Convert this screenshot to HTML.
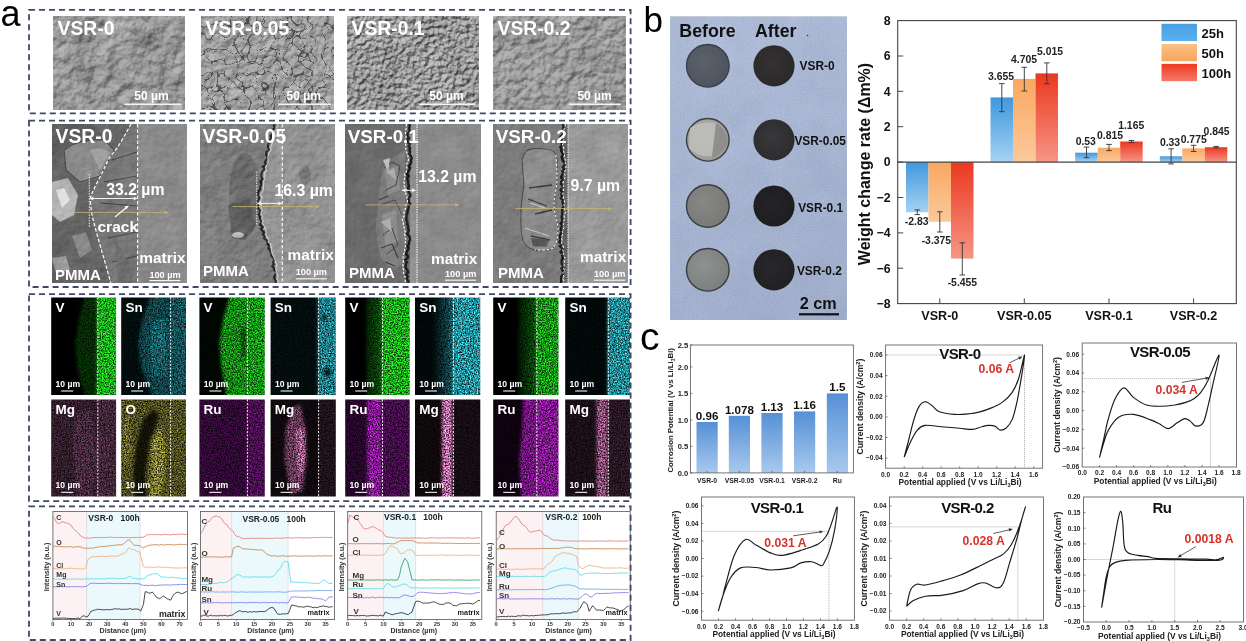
<!DOCTYPE html><html><head><meta charset="utf-8"><style>html,body{margin:0;padding:0;background:#fff}body{width:1246px;height:641px;position:relative;overflow:hidden}</style></head><body><svg width="1246" height="641" viewBox="0 0 1246 641" style="position:absolute;left:0;top:0" font-family='"Liberation Sans", Arial, sans-serif'><defs><filter id="semT0" x="0" y="0" width="1" height="1" color-interpolation-filters="sRGB"><feTurbulence type="fractalNoise" baseFrequency="0.08" numOctaves="5" seed="3" result="n"/><feDiffuseLighting in="n" surfaceScale="4.5" diffuseConstant="1" lighting-color="#fff" result="l"><feDistantLight azimuth="235" elevation="50"/></feDiffuseLighting><feComposite in="SourceGraphic" in2="l" operator="arithmetic" k1="0" k2="1" k3="0.35" k4="-0.268" result="a"/><feTurbulence type="fractalNoise" baseFrequency="0.03" numOctaves="3" seed="14" result="t2"/><feColorMatrix in="t2" type="matrix" values="1 0 0 0 0 1 0 0 0 0 1 0 0 0 0 0 0 0 0 1" result="g2"/><feComposite in="a" in2="g2" operator="arithmetic" k1="0" k2="1" k3="0.3" k4="-0.150" result="b"/></filter><filter id="semT1" x="0" y="0" width="1" height="1" color-interpolation-filters="sRGB"><feTurbulence type="fractalNoise" baseFrequency="0.14" numOctaves="4" seed="5" result="n"/><feDiffuseLighting in="n" surfaceScale="3" diffuseConstant="1" lighting-color="#fff" result="l"><feDistantLight azimuth="235" elevation="50"/></feDiffuseLighting><feComposite in="SourceGraphic" in2="l" operator="arithmetic" k1="0" k2="1" k3="0.32" k4="-0.245" result="a"/><feTurbulence type="fractalNoise" baseFrequency="0.05" numOctaves="3" seed="16" result="t2"/><feColorMatrix in="t2" type="matrix" values="1 0 0 0 0 1 0 0 0 0 1 0 0 0 0 0 0 0 0 1" result="g2"/><feComposite in="a" in2="g2" operator="arithmetic" k1="0" k2="1" k3="0.15" k4="-0.075" result="b"/><feTurbulence type="turbulence" baseFrequency="0.08" numOctaves="1" seed="10" result="t3"/><feColorMatrix in="t3" type="matrix" values="1 0 0 0 0 1 0 0 0 0 1 0 0 0 0 0 0 0 0 1" result="g3"/><feComponentTransfer in="g3" result="g4"><feFuncR type="table" tableValues="0.55 0.72 0.93 1 1 1 1 1 1 1 1 1 1 1 1 1 1 1 1 1 1 1 1 1 1 1 1 1 1 1 1 1 1 1 1 1 1 1 1 1 1 1 1 1 1 1 1 1 1 1 1 1 1 1 1 1 1 1 1 1"/><feFuncG type="table" tableValues="0.55 0.72 0.93 1 1 1 1 1 1 1 1 1 1 1 1 1 1 1 1 1 1 1 1 1 1 1 1 1 1 1 1 1 1 1 1 1 1 1 1 1 1 1 1 1 1 1 1 1 1 1 1 1 1 1 1 1 1 1 1 1"/><feFuncB type="table" tableValues="0.55 0.72 0.93 1 1 1 1 1 1 1 1 1 1 1 1 1 1 1 1 1 1 1 1 1 1 1 1 1 1 1 1 1 1 1 1 1 1 1 1 1 1 1 1 1 1 1 1 1 1 1 1 1 1 1 1 1 1 1 1 1"/><feFuncA type="linear" slope="0" intercept="1"/></feComponentTransfer><feComposite in="b" in2="g4" operator="arithmetic" k1="1" k2="0" k3="0" k4="0"/></filter><filter id="semT2" x="0" y="0" width="1" height="1" color-interpolation-filters="sRGB"><feTurbulence type="fractalNoise" baseFrequency="0.22" numOctaves="3" seed="8" result="n"/><feDiffuseLighting in="n" surfaceScale="4" diffuseConstant="1" lighting-color="#fff" result="l"><feDistantLight azimuth="235" elevation="50"/></feDiffuseLighting><feComposite in="SourceGraphic" in2="l" operator="arithmetic" k1="0" k2="1" k3="0.48" k4="-0.368" result="a"/><feTurbulence type="fractalNoise" baseFrequency="0.04" numOctaves="3" seed="19" result="t2"/><feColorMatrix in="t2" type="matrix" values="1 0 0 0 0 1 0 0 0 0 1 0 0 0 0 0 0 0 0 1" result="g2"/><feComposite in="a" in2="g2" operator="arithmetic" k1="0" k2="1" k3="0.15" k4="-0.075" result="b"/></filter><filter id="semT3" x="0" y="0" width="1" height="1" color-interpolation-filters="sRGB"><feTurbulence type="fractalNoise" baseFrequency="0.12" numOctaves="5" seed="13" result="n"/><feDiffuseLighting in="n" surfaceScale="4" diffuseConstant="1" lighting-color="#fff" result="l"><feDistantLight azimuth="235" elevation="50"/></feDiffuseLighting><feComposite in="SourceGraphic" in2="l" operator="arithmetic" k1="0" k2="1" k3="0.32" k4="-0.245" result="a"/><feTurbulence type="fractalNoise" baseFrequency="0.04" numOctaves="3" seed="24" result="t2"/><feColorMatrix in="t2" type="matrix" values="1 0 0 0 0 1 0 0 0 0 1 0 0 0 0 0 0 0 0 1" result="g2"/><feComposite in="a" in2="g2" operator="arithmetic" k1="0" k2="1" k3="0.18" k4="-0.090" result="b"/></filter><filter id="semC0" x="0" y="0" width="1" height="1" color-interpolation-filters="sRGB"><feGaussianBlur in="SourceGraphic" stdDeviation="0.5" result="bl"/><feTurbulence type="fractalNoise" baseFrequency="0.18" numOctaves="3" seed="21" result="n"/><feDiffuseLighting in="n" surfaceScale="1.5" diffuseConstant="1" lighting-color="#fff" result="l"><feDistantLight azimuth="235" elevation="50"/></feDiffuseLighting><feComposite in="bl" in2="l" operator="arithmetic" k1="0" k2="1" k3="0.12" k4="-0.092" result="a"/><feTurbulence type="fractalNoise" baseFrequency="0.05" numOctaves="3" seed="32" result="t2"/><feColorMatrix in="t2" type="matrix" values="1 0 0 0 0 1 0 0 0 0 1 0 0 0 0 0 0 0 0 1" result="g2"/><feComposite in="a" in2="g2" operator="arithmetic" k1="0" k2="1" k3="0.1" k4="-0.050" result="b"/></filter><filter id="semC1" x="0" y="0" width="1" height="1" color-interpolation-filters="sRGB"><feGaussianBlur in="SourceGraphic" stdDeviation="0.5" result="bl"/><feTurbulence type="fractalNoise" baseFrequency="0.16" numOctaves="3" seed="22" result="n"/><feDiffuseLighting in="n" surfaceScale="2" diffuseConstant="1" lighting-color="#fff" result="l"><feDistantLight azimuth="235" elevation="50"/></feDiffuseLighting><feComposite in="bl" in2="l" operator="arithmetic" k1="0" k2="1" k3="0.16" k4="-0.123" result="a"/><feTurbulence type="fractalNoise" baseFrequency="0.05" numOctaves="3" seed="33" result="t2"/><feColorMatrix in="t2" type="matrix" values="1 0 0 0 0 1 0 0 0 0 1 0 0 0 0 0 0 0 0 1" result="g2"/><feComposite in="a" in2="g2" operator="arithmetic" k1="0" k2="1" k3="0.12" k4="-0.060" result="b"/></filter><filter id="semC2" x="0" y="0" width="1" height="1" color-interpolation-filters="sRGB"><feGaussianBlur in="SourceGraphic" stdDeviation="0.5" result="bl"/><feTurbulence type="fractalNoise" baseFrequency="0.18" numOctaves="3" seed="23" result="n"/><feDiffuseLighting in="n" surfaceScale="1.2" diffuseConstant="1" lighting-color="#fff" result="l"><feDistantLight azimuth="235" elevation="50"/></feDiffuseLighting><feComposite in="bl" in2="l" operator="arithmetic" k1="0" k2="1" k3="0.1" k4="-0.077" result="a"/><feTurbulence type="fractalNoise" baseFrequency="0.05" numOctaves="3" seed="34" result="t2"/><feColorMatrix in="t2" type="matrix" values="1 0 0 0 0 1 0 0 0 0 1 0 0 0 0 0 0 0 0 1" result="g2"/><feComposite in="a" in2="g2" operator="arithmetic" k1="0" k2="1" k3="0.08" k4="-0.040" result="b"/></filter><filter id="semC3" x="0" y="0" width="1" height="1" color-interpolation-filters="sRGB"><feGaussianBlur in="SourceGraphic" stdDeviation="0.5" result="bl"/><feTurbulence type="fractalNoise" baseFrequency="0.18" numOctaves="3" seed="24" result="n"/><feDiffuseLighting in="n" surfaceScale="1.5" diffuseConstant="1" lighting-color="#fff" result="l"><feDistantLight azimuth="235" elevation="50"/></feDiffuseLighting><feComposite in="bl" in2="l" operator="arithmetic" k1="0" k2="1" k3="0.12" k4="-0.092" result="a"/><feTurbulence type="fractalNoise" baseFrequency="0.05" numOctaves="3" seed="35" result="t2"/><feColorMatrix in="t2" type="matrix" values="1 0 0 0 0 1 0 0 0 0 1 0 0 0 0 0 0 0 0 1" result="g2"/><feComposite in="a" in2="g2" operator="arithmetic" k1="0" k2="1" k3="0.1" k4="-0.050" result="b"/></filter><clipPath id="clip00"><rect x="51.2" y="297.5" width="64.9" height="97.5"/></clipPath><filter id="eds00" x="0" y="0" width="1" height="1" color-interpolation-filters="sRGB"><feGaussianBlur in="SourceGraphic" stdDeviation="1.8" result="bl"/><feTurbulence type="fractalNoise" baseFrequency="0.75" numOctaves="3" seed="31" result="t1"/><feColorMatrix in="t1" type="matrix" values="1 0 0 0 0 1 0 0 0 0 1 0 0 0 0 0 0 0 0 1" result="g1"/><feComponentTransfer in="g1" result="g2"><feFuncR type="linear" slope="1.7" intercept="-0.35"/><feFuncG type="linear" slope="1.7" intercept="-0.35"/><feFuncB type="linear" slope="1.7" intercept="-0.35"/><feFuncA type="linear" slope="0" intercept="1"/></feComponentTransfer><feComposite in="bl" in2="g2" operator="arithmetic" k1="1.9" k2="0" k3="0" k4="0"/></filter><clipPath id="clip10"><rect x="121.2" y="297.5" width="64.8" height="97.5"/></clipPath><filter id="eds10" x="0" y="0" width="1" height="1" color-interpolation-filters="sRGB"><feGaussianBlur in="SourceGraphic" stdDeviation="1.8" result="bl"/><feTurbulence type="fractalNoise" baseFrequency="0.75" numOctaves="3" seed="32" result="t1"/><feColorMatrix in="t1" type="matrix" values="1 0 0 0 0 1 0 0 0 0 1 0 0 0 0 0 0 0 0 1" result="g1"/><feComponentTransfer in="g1" result="g2"><feFuncR type="linear" slope="1.7" intercept="-0.35"/><feFuncG type="linear" slope="1.7" intercept="-0.35"/><feFuncB type="linear" slope="1.7" intercept="-0.35"/><feFuncA type="linear" slope="0" intercept="1"/></feComponentTransfer><feComposite in="bl" in2="g2" operator="arithmetic" k1="1.9" k2="0" k3="0" k4="0"/></filter><clipPath id="clip01"><rect x="51.2" y="399.5" width="64.9" height="96.9"/></clipPath><filter id="eds01" x="0" y="0" width="1" height="1" color-interpolation-filters="sRGB"><feGaussianBlur in="SourceGraphic" stdDeviation="1.8" result="bl"/><feTurbulence type="fractalNoise" baseFrequency="0.75" numOctaves="3" seed="33" result="t1"/><feColorMatrix in="t1" type="matrix" values="1 0 0 0 0 1 0 0 0 0 1 0 0 0 0 0 0 0 0 1" result="g1"/><feComponentTransfer in="g1" result="g2"><feFuncR type="linear" slope="1.7" intercept="-0.35"/><feFuncG type="linear" slope="1.7" intercept="-0.35"/><feFuncB type="linear" slope="1.7" intercept="-0.35"/><feFuncA type="linear" slope="0" intercept="1"/></feComponentTransfer><feComposite in="bl" in2="g2" operator="arithmetic" k1="1.9" k2="0" k3="0" k4="0"/></filter><clipPath id="clip11"><rect x="121.2" y="399.5" width="64.8" height="96.9"/></clipPath><filter id="eds11" x="0" y="0" width="1" height="1" color-interpolation-filters="sRGB"><feGaussianBlur in="SourceGraphic" stdDeviation="1.8" result="bl"/><feTurbulence type="fractalNoise" baseFrequency="0.75" numOctaves="3" seed="34" result="t1"/><feColorMatrix in="t1" type="matrix" values="1 0 0 0 0 1 0 0 0 0 1 0 0 0 0 0 0 0 0 1" result="g1"/><feComponentTransfer in="g1" result="g2"><feFuncR type="linear" slope="1.7" intercept="-0.35"/><feFuncG type="linear" slope="1.7" intercept="-0.35"/><feFuncB type="linear" slope="1.7" intercept="-0.35"/><feFuncA type="linear" slope="0" intercept="1"/></feComponentTransfer><feComposite in="bl" in2="g2" operator="arithmetic" k1="1.9" k2="0" k3="0" k4="0"/></filter><clipPath id="clip20"><rect x="199.4" y="297.5" width="65.4" height="97.5"/></clipPath><filter id="eds20" x="0" y="0" width="1" height="1" color-interpolation-filters="sRGB"><feGaussianBlur in="SourceGraphic" stdDeviation="1.8" result="bl"/><feTurbulence type="fractalNoise" baseFrequency="0.75" numOctaves="3" seed="35" result="t1"/><feColorMatrix in="t1" type="matrix" values="1 0 0 0 0 1 0 0 0 0 1 0 0 0 0 0 0 0 0 1" result="g1"/><feComponentTransfer in="g1" result="g2"><feFuncR type="linear" slope="1.7" intercept="-0.35"/><feFuncG type="linear" slope="1.7" intercept="-0.35"/><feFuncB type="linear" slope="1.7" intercept="-0.35"/><feFuncA type="linear" slope="0" intercept="1"/></feComponentTransfer><feComposite in="bl" in2="g2" operator="arithmetic" k1="1.9" k2="0" k3="0" k4="0"/></filter><clipPath id="clip30"><rect x="270.6" y="297.5" width="65.2" height="97.5"/></clipPath><filter id="eds30" x="0" y="0" width="1" height="1" color-interpolation-filters="sRGB"><feGaussianBlur in="SourceGraphic" stdDeviation="1.8" result="bl"/><feTurbulence type="fractalNoise" baseFrequency="0.75" numOctaves="3" seed="36" result="t1"/><feColorMatrix in="t1" type="matrix" values="1 0 0 0 0 1 0 0 0 0 1 0 0 0 0 0 0 0 0 1" result="g1"/><feComponentTransfer in="g1" result="g2"><feFuncR type="linear" slope="1.7" intercept="-0.35"/><feFuncG type="linear" slope="1.7" intercept="-0.35"/><feFuncB type="linear" slope="1.7" intercept="-0.35"/><feFuncA type="linear" slope="0" intercept="1"/></feComponentTransfer><feComposite in="bl" in2="g2" operator="arithmetic" k1="1.9" k2="0" k3="0" k4="0"/></filter><clipPath id="clip21"><rect x="199.4" y="399.5" width="65.4" height="96.9"/></clipPath><filter id="eds21" x="0" y="0" width="1" height="1" color-interpolation-filters="sRGB"><feGaussianBlur in="SourceGraphic" stdDeviation="1.8" result="bl"/><feTurbulence type="fractalNoise" baseFrequency="0.75" numOctaves="3" seed="37" result="t1"/><feColorMatrix in="t1" type="matrix" values="1 0 0 0 0 1 0 0 0 0 1 0 0 0 0 0 0 0 0 1" result="g1"/><feComponentTransfer in="g1" result="g2"><feFuncR type="linear" slope="1.7" intercept="-0.35"/><feFuncG type="linear" slope="1.7" intercept="-0.35"/><feFuncB type="linear" slope="1.7" intercept="-0.35"/><feFuncA type="linear" slope="0" intercept="1"/></feComponentTransfer><feComposite in="bl" in2="g2" operator="arithmetic" k1="1.9" k2="0" k3="0" k4="0"/></filter><clipPath id="clip31"><rect x="270.6" y="399.5" width="65.2" height="96.9"/></clipPath><filter id="eds31" x="0" y="0" width="1" height="1" color-interpolation-filters="sRGB"><feGaussianBlur in="SourceGraphic" stdDeviation="1.8" result="bl"/><feTurbulence type="fractalNoise" baseFrequency="0.75" numOctaves="3" seed="38" result="t1"/><feColorMatrix in="t1" type="matrix" values="1 0 0 0 0 1 0 0 0 0 1 0 0 0 0 0 0 0 0 1" result="g1"/><feComponentTransfer in="g1" result="g2"><feFuncR type="linear" slope="1.7" intercept="-0.35"/><feFuncG type="linear" slope="1.7" intercept="-0.35"/><feFuncB type="linear" slope="1.7" intercept="-0.35"/><feFuncA type="linear" slope="0" intercept="1"/></feComponentTransfer><feComposite in="bl" in2="g2" operator="arithmetic" k1="1.9" k2="0" k3="0" k4="0"/></filter><clipPath id="clip40"><rect x="345.2" y="297.5" width="64.5" height="97.5"/></clipPath><filter id="eds40" x="0" y="0" width="1" height="1" color-interpolation-filters="sRGB"><feGaussianBlur in="SourceGraphic" stdDeviation="1.8" result="bl"/><feTurbulence type="fractalNoise" baseFrequency="0.75" numOctaves="3" seed="39" result="t1"/><feColorMatrix in="t1" type="matrix" values="1 0 0 0 0 1 0 0 0 0 1 0 0 0 0 0 0 0 0 1" result="g1"/><feComponentTransfer in="g1" result="g2"><feFuncR type="linear" slope="1.7" intercept="-0.35"/><feFuncG type="linear" slope="1.7" intercept="-0.35"/><feFuncB type="linear" slope="1.7" intercept="-0.35"/><feFuncA type="linear" slope="0" intercept="1"/></feComponentTransfer><feComposite in="bl" in2="g2" operator="arithmetic" k1="1.9" k2="0" k3="0" k4="0"/></filter><linearGradient id="gr401"><stop offset="0" stop-color="rgb(5,33,5)"/><stop offset="1" stop-color="rgb(11,77,11)"/></linearGradient><clipPath id="clip50"><rect x="415.0" y="297.5" width="65.3" height="97.5"/></clipPath><filter id="eds50" x="0" y="0" width="1" height="1" color-interpolation-filters="sRGB"><feGaussianBlur in="SourceGraphic" stdDeviation="1.8" result="bl"/><feTurbulence type="fractalNoise" baseFrequency="0.75" numOctaves="3" seed="40" result="t1"/><feColorMatrix in="t1" type="matrix" values="1 0 0 0 0 1 0 0 0 0 1 0 0 0 0 0 0 0 0 1" result="g1"/><feComponentTransfer in="g1" result="g2"><feFuncR type="linear" slope="1.7" intercept="-0.35"/><feFuncG type="linear" slope="1.7" intercept="-0.35"/><feFuncB type="linear" slope="1.7" intercept="-0.35"/><feFuncA type="linear" slope="0" intercept="1"/></feComponentTransfer><feComposite in="bl" in2="g2" operator="arithmetic" k1="1.9" k2="0" k3="0" k4="0"/></filter><linearGradient id="gr502"><stop offset="0" stop-color="rgb(2,9,10)"/><stop offset="1" stop-color="rgb(21,82,89)"/></linearGradient><clipPath id="clip41"><rect x="345.2" y="399.5" width="64.5" height="96.9"/></clipPath><filter id="eds41" x="0" y="0" width="1" height="1" color-interpolation-filters="sRGB"><feGaussianBlur in="SourceGraphic" stdDeviation="1.8" result="bl"/><feTurbulence type="fractalNoise" baseFrequency="0.75" numOctaves="3" seed="41" result="t1"/><feColorMatrix in="t1" type="matrix" values="1 0 0 0 0 1 0 0 0 0 1 0 0 0 0 0 0 0 0 1" result="g1"/><feComponentTransfer in="g1" result="g2"><feFuncR type="linear" slope="1.7" intercept="-0.35"/><feFuncG type="linear" slope="1.7" intercept="-0.35"/><feFuncB type="linear" slope="1.7" intercept="-0.35"/><feFuncA type="linear" slope="0" intercept="1"/></feComponentTransfer><feComposite in="bl" in2="g2" operator="arithmetic" k1="1.9" k2="0" k3="0" k4="0"/></filter><clipPath id="clip51"><rect x="415.0" y="399.5" width="65.3" height="96.9"/></clipPath><filter id="eds51" x="0" y="0" width="1" height="1" color-interpolation-filters="sRGB"><feGaussianBlur in="SourceGraphic" stdDeviation="1.8" result="bl"/><feTurbulence type="fractalNoise" baseFrequency="0.75" numOctaves="3" seed="42" result="t1"/><feColorMatrix in="t1" type="matrix" values="1 0 0 0 0 1 0 0 0 0 1 0 0 0 0 0 0 0 0 1" result="g1"/><feComponentTransfer in="g1" result="g2"><feFuncR type="linear" slope="1.7" intercept="-0.35"/><feFuncG type="linear" slope="1.7" intercept="-0.35"/><feFuncB type="linear" slope="1.7" intercept="-0.35"/><feFuncA type="linear" slope="0" intercept="1"/></feComponentTransfer><feComposite in="bl" in2="g2" operator="arithmetic" k1="1.9" k2="0" k3="0" k4="0"/></filter><clipPath id="clip60"><rect x="493.2" y="297.5" width="65.3" height="97.5"/></clipPath><filter id="eds60" x="0" y="0" width="1" height="1" color-interpolation-filters="sRGB"><feGaussianBlur in="SourceGraphic" stdDeviation="1.8" result="bl"/><feTurbulence type="fractalNoise" baseFrequency="0.75" numOctaves="3" seed="43" result="t1"/><feColorMatrix in="t1" type="matrix" values="1 0 0 0 0 1 0 0 0 0 1 0 0 0 0 0 0 0 0 1" result="g1"/><feComponentTransfer in="g1" result="g2"><feFuncR type="linear" slope="1.7" intercept="-0.35"/><feFuncG type="linear" slope="1.7" intercept="-0.35"/><feFuncB type="linear" slope="1.7" intercept="-0.35"/><feFuncA type="linear" slope="0" intercept="1"/></feComponentTransfer><feComposite in="bl" in2="g2" operator="arithmetic" k1="1.9" k2="0" k3="0" k4="0"/></filter><linearGradient id="gr601"><stop offset="0" stop-color="rgb(3,22,3)"/><stop offset="1" stop-color="rgb(11,77,11)"/></linearGradient><clipPath id="clip70"><rect x="565.2" y="297.5" width="64.8" height="97.5"/></clipPath><filter id="eds70" x="0" y="0" width="1" height="1" color-interpolation-filters="sRGB"><feGaussianBlur in="SourceGraphic" stdDeviation="1.8" result="bl"/><feTurbulence type="fractalNoise" baseFrequency="0.75" numOctaves="3" seed="44" result="t1"/><feColorMatrix in="t1" type="matrix" values="1 0 0 0 0 1 0 0 0 0 1 0 0 0 0 0 0 0 0 1" result="g1"/><feComponentTransfer in="g1" result="g2"><feFuncR type="linear" slope="1.7" intercept="-0.35"/><feFuncG type="linear" slope="1.7" intercept="-0.35"/><feFuncB type="linear" slope="1.7" intercept="-0.35"/><feFuncA type="linear" slope="0" intercept="1"/></feComponentTransfer><feComposite in="bl" in2="g2" operator="arithmetic" k1="1.9" k2="0" k3="0" k4="0"/></filter><clipPath id="clip61"><rect x="493.2" y="399.5" width="65.3" height="96.9"/></clipPath><filter id="eds61" x="0" y="0" width="1" height="1" color-interpolation-filters="sRGB"><feGaussianBlur in="SourceGraphic" stdDeviation="1.8" result="bl"/><feTurbulence type="fractalNoise" baseFrequency="0.75" numOctaves="3" seed="45" result="t1"/><feColorMatrix in="t1" type="matrix" values="1 0 0 0 0 1 0 0 0 0 1 0 0 0 0 0 0 0 0 1" result="g1"/><feComponentTransfer in="g1" result="g2"><feFuncR type="linear" slope="1.7" intercept="-0.35"/><feFuncG type="linear" slope="1.7" intercept="-0.35"/><feFuncB type="linear" slope="1.7" intercept="-0.35"/><feFuncA type="linear" slope="0" intercept="1"/></feComponentTransfer><feComposite in="bl" in2="g2" operator="arithmetic" k1="1.9" k2="0" k3="0" k4="0"/></filter><clipPath id="clip71"><rect x="565.2" y="399.5" width="64.8" height="96.9"/></clipPath><filter id="eds71" x="0" y="0" width="1" height="1" color-interpolation-filters="sRGB"><feGaussianBlur in="SourceGraphic" stdDeviation="1.8" result="bl"/><feTurbulence type="fractalNoise" baseFrequency="0.75" numOctaves="3" seed="46" result="t1"/><feColorMatrix in="t1" type="matrix" values="1 0 0 0 0 1 0 0 0 0 1 0 0 0 0 0 0 0 0 1" result="g1"/><feComponentTransfer in="g1" result="g2"><feFuncR type="linear" slope="1.7" intercept="-0.35"/><feFuncG type="linear" slope="1.7" intercept="-0.35"/><feFuncB type="linear" slope="1.7" intercept="-0.35"/><feFuncA type="linear" slope="0" intercept="1"/></feComponentTransfer><feComposite in="bl" in2="g2" operator="arithmetic" k1="1.9" k2="0" k3="0" k4="0"/></filter><linearGradient id="photoBg" x1="0" y1="0" x2="0.3" y2="1"><stop offset="0" stop-color="#afbcd8"/><stop offset="1" stop-color="#a2afcc"/></linearGradient><filter id="photoN" x="0" y="0" width="1" height="1" color-interpolation-filters="sRGB"><feTurbulence type="fractalNoise" baseFrequency="0.6" numOctaves="2" seed="51" result="t1"/><feColorMatrix in="t1" type="matrix" values="1 0 0 0 0 1 0 0 0 0 1 0 0 0 0 0 0 0 0 1" result="g1"/><feComposite in="SourceGraphic" in2="g1" operator="arithmetic" k1="0" k2="1" k3="0.08" k4="-0.040" result="a"/><feTurbulence type="fractalNoise" baseFrequency="0.03" numOctaves="3" seed="62" result="t2"/><feColorMatrix in="t2" type="matrix" values="1 0 0 0 0 1 0 0 0 0 1 0 0 0 0 0 0 0 0 1" result="g2"/><feComposite in="a" in2="g2" operator="arithmetic" k1="0" k2="1" k3="0.05" k4="-0.025" result="b"/></filter><radialGradient id="bd0" cx="0.4" cy="0.4" r="0.65"><stop offset="0" stop-color="#5b626c"/><stop offset="1" stop-color="#4d535c"/></radialGradient><radialGradient id="ad0" cx="0.45" cy="0.45" r="0.6"><stop offset="0" stop-color="#343232"/><stop offset="1" stop-color="#2a2828"/></radialGradient><radialGradient id="bd1" cx="0.4" cy="0.4" r="0.65"><stop offset="0" stop-color="#b0b0ac"/><stop offset="1" stop-color="#9a9a96"/></radialGradient><radialGradient id="ad1" cx="0.45" cy="0.45" r="0.6"><stop offset="0" stop-color="#38383a"/><stop offset="1" stop-color="#2c2c2e"/></radialGradient><radialGradient id="bd2" cx="0.4" cy="0.4" r="0.65"><stop offset="0" stop-color="#878885"/><stop offset="1" stop-color="#787976"/></radialGradient><radialGradient id="ad2" cx="0.45" cy="0.45" r="0.6"><stop offset="0" stop-color="#252527"/><stop offset="1" stop-color="#1d1d1f"/></radialGradient><radialGradient id="bd3" cx="0.4" cy="0.4" r="0.65"><stop offset="0" stop-color="#8e9290"/><stop offset="1" stop-color="#7a7e7c"/></radialGradient><radialGradient id="ad3" cx="0.45" cy="0.45" r="0.6"><stop offset="0" stop-color="#28282a"/><stop offset="1" stop-color="#202022"/></radialGradient><linearGradient id="gB" x1="0" y1="0" x2="0" y2="1"><stop offset="0" stop-color="#3f98de"/><stop offset="1" stop-color="#a6d2f3"/></linearGradient><linearGradient id="gO" x1="0" y1="0" x2="0" y2="1"><stop offset="0" stop-color="#f8a862"/><stop offset="1" stop-color="#fcc99a"/></linearGradient><linearGradient id="gR" x1="0" y1="0" x2="0" y2="1"><stop offset="0" stop-color="#ec3820"/><stop offset="1" stop-color="#f59585"/></linearGradient><linearGradient id="lB" x1="0" y1="0" x2="0" y2="1"><stop offset="0" stop-color="#46a0e4"/><stop offset="1" stop-color="#5cb1ee"/></linearGradient><linearGradient id="lO" x1="0" y1="0" x2="0" y2="1"><stop offset="0" stop-color="#fdbf85"/><stop offset="1" stop-color="#f8a55c"/></linearGradient><linearGradient id="lR" x1="0" y1="0" x2="0" y2="1"><stop offset="0" stop-color="#ee3a20"/><stop offset="1" stop-color="#f47b6a"/></linearGradient><linearGradient id="gC" x1="0" y1="0" x2="0" y2="1"><stop offset="0" stop-color="#5590d6"/><stop offset="1" stop-color="#a9c9ee"/></linearGradient></defs><text x="0.5" y="25.5" font-size="36" font-weight="normal" fill="#000">a</text>
<rect x="53" y="16" width="132" height="94" fill="#9a9a9a" filter="url(#semT0)"/>
<text x="57.6" y="35.1" font-size="19.3" font-weight="bold" fill="#fff" text-anchor="start" >VSR-0</text>
<text x="134.3" y="99.8" font-size="12" font-weight="bold" fill="#fff" text-anchor="start" >50 µm</text>
<rect x="124.1" y="103.5" width="57.0" height="1.6" fill="#f4f4f4"/>
<rect x="201" y="16" width="133" height="94" fill="#a4a4a4" filter="url(#semT1)"/>
<text x="205.6" y="35.1" font-size="19.3" font-weight="bold" fill="#fff" text-anchor="start" >VSR-0.05</text>
<text x="286.6" y="99.8" font-size="12" font-weight="bold" fill="#fff" text-anchor="start" >50 µm</text>
<rect x="278.2" y="103.5" width="52.8" height="1.6" fill="#f4f4f4"/>
<rect x="347" y="16" width="132" height="94" fill="#a0a0a0" filter="url(#semT2)"/>
<text x="351.6" y="35.1" font-size="19.3" font-weight="bold" fill="#fff" text-anchor="start" >VSR-0.1</text>
<text x="429.3" y="99.8" font-size="12" font-weight="bold" fill="#fff" text-anchor="start" >50 µm</text>
<rect x="419.1" y="103.5" width="55.8" height="1.6" fill="#f4f4f4"/>
<rect x="493" y="16" width="133" height="94" fill="#9c9c9c" filter="url(#semT3)"/>
<text x="497.6" y="35.1" font-size="19.3" font-weight="bold" fill="#fff" text-anchor="start" >VSR-0.2</text>
<text x="577.4" y="99.8" font-size="12" font-weight="bold" fill="#fff" text-anchor="start" >50 µm</text>
<rect x="568.8" y="103.5" width="52.0" height="1.6" fill="#f4f4f4"/>
<g filter="url(#semC0)"><rect x="52" y="124" width="135" height="159" fill="#666"/><rect x="137.6" y="124" width="49.4" height="159" fill="#8a8a8a"/><path d="M131.0,124.0 C130.1,125.7 127.8,130.1 125.5,134.0 C123.2,137.9 120.1,143.5 117.4,147.5 C114.7,151.5 111.9,154.0 109.4,158.0 C107.0,162.0 105.2,166.7 102.7,171.7 C100.2,176.7 96.6,183.3 94.6,187.8 C92.6,192.3 91.0,194.0 90.6,198.5 C90.2,203.0 91.1,209.2 92.0,214.6 C92.9,220.0 94.5,224.9 96.0,230.7 C97.5,236.5 99.5,243.2 101.3,249.5 C103.1,255.8 105.1,262.7 106.7,268.3 C108.3,273.9 110.0,280.6 110.7,283.0 L137.6,283 L137.6,124 Z" fill="#787878"/><path d="M52,124 L92,124 L104,136 L90,150 L64,146 L52,156 Z" fill="#5e5e5e"/><path d="M64,150 Q80,138 104,140 L114,150 L100,176 L80,182 L66,170 Z" fill="#8a8a8a" stroke="#444" stroke-width="1"/><path d="M90,150 Q100,146 110,152 L100,170 Z" fill="#a0a0a0"/><path d="M52,182 L68,178 L78,195 L74,215 L60,222 L52,215 Z" fill="#b4b4b4"/><path d="M56,190 L64,188 L70,200 L62,208 Z" fill="#e0e0e0"/><path d="M52,225 L80,220 L95,240 L88,265 L70,283 L52,283 Z" fill="#636363"/><path d="M72,236 L86,232 L92,250 L80,258 Z" fill="#8a8a8a"/><path d="M52,258 L66,256 L70,270 L56,274 Z" fill="#9a9a9a"/><path d="M112,160 L137,152 M104,182 L137,176 M100,203 L137,206 M108,238 L137,232 M112,262 L137,256" stroke="#4a4a4a" stroke-width="1.2" fill="none"/><path d="M115,240 Q122,250 130,265 L134,283 L118,283 Z" fill="#6e6e6e"/></g>
<path d="M131.0,124.0 C130.1,125.7 127.8,130.1 125.5,134.0 C123.2,137.9 120.1,143.5 117.4,147.5 C114.7,151.5 111.9,154.0 109.4,158.0 C107.0,162.0 105.2,166.7 102.7,171.7 C100.2,176.7 96.6,183.3 94.6,187.8 C92.6,192.3 91.0,194.0 90.6,198.5 C90.2,203.0 91.1,209.2 92.0,214.6 C92.9,220.0 94.5,224.9 96.0,230.7 C97.5,236.5 99.5,243.2 101.3,249.5 C103.1,255.8 105.1,262.7 106.7,268.3 C108.3,273.9 110.0,280.6 110.7,283.0" fill="none" stroke="#fff" stroke-width="1.2" stroke-dasharray="3.5 2" opacity="1"/>
<path d="M137.6,124 V283" fill="none" stroke="#fff" stroke-width="1.1" stroke-dasharray="3.5 2" opacity="1"/>
<path d="M89.3,174 V228" fill="none" stroke="#fff" stroke-width="0.9" stroke-dasharray="1.5 1.2" opacity="1"/>
<line x1="74.5" y1="212.4" x2="165.4" y2="212.4" stroke="#c8b46e" stroke-width="0.9" opacity="0.9"/><path d="M168.4,212.4 l-4,-1.8 v3.6 z" fill="#c8b46e"/>
<line x1="89.8" y1="198.5" x2="137.2" y2="198.5" stroke="#f2f2f2" stroke-width="1.0"/><path d="M89.8,198.5 l3.5,-2 v4 z M137.2,198.5 l-3.5,-2 v4 z" fill="#f2f2f2"/>
<text x="106.2" y="194.5" font-size="15.8" font-weight="bold" fill="#fff" text-anchor="start" >33.2 µm</text>
<text x="97.5" y="232.2" font-size="15.5" font-weight="bold" fill="#fff" text-anchor="start" >crack</text>
<path d="M115,217 L127,207" stroke="#fff" stroke-width="1.2"/><path d="M129,205.5 l-4.5,1 l2,2.8 z" fill="#fff"/>
<text x="55.0" y="280.2" font-size="15" font-weight="bold" fill="#fff" text-anchor="start" >PMMA</text>
<text x="139.3" y="262.6" font-size="15.4" font-weight="bold" fill="#fff" text-anchor="start" >matrix</text>
<text x="149.4" y="277.8" font-size="9.2" font-weight="bold" fill="#fff" text-anchor="start" >100 µm</text>
<rect x="149.5" y="280" width="31" height="1.2" fill="#f2f2f2"/>
<text x="55.6" y="143.4" font-size="19.3" font-weight="bold" fill="#fff" text-anchor="start" >VSR-0</text>
<g filter="url(#semC1)"><rect x="200" y="124" width="135" height="159" fill="#7e7e7e"/><ellipse cx="245" cy="195" rx="16" ry="42" fill="#6c6c6c"/><path d="M228,205 L250,198 L255,225 L245,240 L232,238 Z" fill="#5e5e5e"/><ellipse cx="238" cy="235" rx="6" ry="3" fill="#b8b8b8"/><path d="M275.5,124.0 C274.2,128.3 270.2,141.2 268.0,150.0 C265.8,158.8 263.7,168.0 262.0,177.0 C260.3,186.0 258.2,196.0 258.0,204.0 C257.8,212.0 259.2,218.3 260.8,225.0 C262.4,231.7 265.5,238.2 267.5,244.0 C269.5,249.8 271.7,253.5 273.0,260.0 C274.3,266.5 275.1,279.2 275.5,283.0 L282.3,283 L282.3,124 Z" fill="#979797"/><rect x="282.3" y="124" width="52.7" height="159" fill="#929292"/><path d="M274.9,124.0 L273.8,126.0 L274.8,128.0 L272.4,130.0 L273.3,132.0 L272.2,134.0 L270.6,136.0 L271.5,138.0 L269.4,140.0 L270.1,142.0 L268.4,144.0 L267.8,146.0 L268.3,148.0 L269.0,150.0 L266.3,152.1 L266.2,154.2 L267.0,156.2 L267.6,158.3 L265.9,160.4 L264.9,162.5 L266.3,164.5 L262.9,166.6 L265.0,168.7 L262.7,170.8 L261.8,172.8 L261.2,174.9 L261.4,177.0 L262.7,179.1 L260.4,181.2 L261.3,183.2 L261.2,185.3 L260.1,187.4 L260.3,189.5 L258.4,191.5 L258.1,193.6 L258.3,195.7 L259.5,197.8 L258.4,199.8 L257.7,201.9 L258.3,204.0 L258.1,206.1 L257.9,208.2 L259.8,210.3 L259.8,212.4 L258.6,214.5 L259.9,216.6 L260.0,218.7 L261.4,220.8 L261.3,222.9 L260.1,225.0 L263.0,226.9 L260.9,228.8 L262.5,230.7 L264.3,232.6 L263.0,234.5 L264.8,236.4 L264.0,238.3 L266.7,240.2 L267.7,242.1 L267.7,244.0 L269.4,246.0 L268.3,248.0 L270.2,250.0 L270.6,252.0 L271.2,254.0 L271.5,256.0 L273.4,258.0 L274.4,260.0 L273.1,262.1 L274.0,264.2 L272.3,266.3 L274.6,268.4 L274.6,270.5 L275.9,272.5 L275.6,274.6 L274.1,276.7 L274.7,278.8 L275.8,280.9 L275.5,283.0" stroke="#2a2a2a" stroke-width="2.2" fill="none"/><path d="M277.2,124.0 L278.4,126.0 L275.8,128.0 L276.7,130.0 L274.6,132.0 L274.4,134.0 L275.6,136.0 L273.2,138.0 L273.6,140.0 L272.6,142.0 L272.0,144.0 L271.5,146.0 L270.2,148.0 L271.2,150.0 L269.0,152.1 L268.8,154.2 L267.9,156.2 L268.0,158.3 L267.9,160.4 L268.6,162.5 L266.9,164.5 L265.8,166.6 L265.7,168.7 L267.0,170.8 L264.3,172.8 L265.1,174.9 L264.1,177.0 L264.5,179.1 L263.4,181.2 L263.9,183.2 L263.2,185.3 L263.2,187.4 L263.5,189.5 L262.4,191.5 L261.1,193.6 L260.6,195.7 L262.4,197.8 L261.0,199.8 L260.0,201.9 L261.5,204.0 L260.9,206.1 L261.5,208.2 L262.2,210.3 L261.0,212.4 L261.5,214.5 L263.0,216.6 L261.5,218.7 L263.3,220.8 L262.0,222.9 L263.7,225.0 L264.4,226.9 L265.6,228.8 L266.0,230.7 L265.9,232.6 L265.8,234.5 L266.4,236.4 L268.0,238.3 L268.6,240.2 L268.2,242.1 L270.9,244.0 L270.6,246.0 L271.8,248.0 L271.3,250.0 L272.0,252.0 L272.2,254.0 L273.6,256.0 L274.2,258.0 L275.2,260.0 L275.3,262.1 L276.7,264.2 L277.0,266.3 L275.5,268.4 L276.3,270.5 L276.0,272.5 L277.4,274.6 L278.4,276.7 L276.7,278.8 L278.3,280.9 L277.9,283.0" stroke="#d0d0d0" stroke-width="1.1" fill="none"/><ellipse cx="305" cy="175" rx="6" ry="10" fill="#7e7e7e"/></g>
<path d="M282.3,124 V283" fill="none" stroke="#fff" stroke-width="1.1" stroke-dasharray="3.5 2" opacity="1"/>
<path d="M256.8,171.7 V225.4" fill="none" stroke="#fff" stroke-width="0.9" stroke-dasharray="1.5 1.2" opacity="1"/>
<line x1="232.6" y1="206.6" x2="316.9" y2="206.6" stroke="#c8b46e" stroke-width="0.9" opacity="0.9"/><path d="M319.9,206.6 l-4,-1.8 v3.6 z" fill="#c8b46e"/>
<line x1="257.2" y1="203.4" x2="282" y2="203.4" stroke="#f2f2f2" stroke-width="1.0"/><path d="M257.2,203.4 l3.5,-2 v4 z M282,203.4 l-3.5,-2 v4 z" fill="#f2f2f2"/>
<text x="274.5" y="196.2" font-size="15.8" font-weight="bold" fill="#fff" text-anchor="start" >16.3 µm</text>
<text x="203.0" y="276.4" font-size="15" font-weight="bold" fill="#fff" text-anchor="start" >PMMA</text>
<text x="287.6" y="260.3" font-size="15.4" font-weight="bold" fill="#fff" text-anchor="start" >matrix</text>
<text x="295.7" y="275.0" font-size="9.2" font-weight="bold" fill="#fff" text-anchor="start" >100 µm</text>
<rect x="295.8" y="278.2" width="31" height="1.2" fill="#f2f2f2"/>
<text x="202.6" y="143.4" font-size="19.3" font-weight="bold" fill="#fff" text-anchor="start" >VSR-0.05</text>
<g filter="url(#semC2)"><rect x="345" y="124" width="136" height="159" fill="#6c6c6c"/><path d="M405.0,150.0 C402.8,151.3 395.5,155.5 392.0,158.0 C388.5,160.5 386.0,160.5 384.0,165.0 C382.0,169.5 381.0,178.3 380.0,185.0 C379.0,191.7 378.7,198.0 378.0,205.0 C377.3,212.0 376.0,220.3 376.0,227.0 C376.0,233.7 376.8,239.3 378.0,245.0 C379.2,250.7 380.2,257.2 383.0,261.0 C385.8,264.8 391.3,267.8 395.0,268.0 C398.7,268.2 403.3,263.0 405.0,262.0 Z" fill="#7c7c7c"/><path d="M384,170 L398,165 L400,190 L388,195 Z M382,215 L396,210 L398,240 L386,250 Z" fill="#8e8e8e"/><rect x="417" y="124" width="64" height="159" fill="#8b8b8b"/><rect x="410" y="124" width="7" height="159" fill="#909090"/><path d="M409.3,124.0 L409.9,126.0 L409.2,128.0 L409.5,130.0 L409.3,132.0 L407.6,134.0 L407.2,136.0 L409.1,138.0 L407.4,140.0 L407.6,142.0 L409.9,144.0 L408.8,146.0 L410.1,148.0 L409.4,150.0 L410.2,152.0 L409.2,154.0 L410.8,156.0 L411.7,158.0 L411.1,160.0 L411.2,162.0 L410.6,164.0 L408.7,166.0 L410.1,168.0 L409.2,170.0 L408.1,172.0 L407.0,174.0 L408.8,176.0 L407.3,178.0 L407.6,180.0 L408.3,182.0 L408.2,184.0 L409.0,186.0 L407.9,188.0 L409.3,190.0 L408.7,192.0 L410.2,194.0 L410.4,196.0 L408.7,198.0 L409.1,200.0 L408.9,202.0 L410.4,204.0 L408.6,206.0 L408.7,208.0 L407.5,210.0 L407.6,212.0 L406.9,214.0 L406.4,216.0 L406.6,218.0 L406.2,220.0 L407.4,222.0 L407.1,224.0 L408.0,226.0 L408.1,228.0 L408.8,230.0 L408.2,232.0 L407.2,234.0 L409.3,236.0 L409.9,238.0 L410.1,240.0 L408.9,242.0 L409.0,244.0 L407.4,246.0 L408.8,248.0 L407.8,250.0 L406.8,252.0 L406.0,254.0 L407.7,256.0 L407.8,258.0 L405.2,260.0 L406.8,262.0 L406.0,264.1 L405.5,266.2 L406.1,268.3 L407.5,270.4 L408.0,272.5 L406.0,274.6 L407.7,276.7 L406.4,278.8 L408.4,280.9 L408.0,283.0" stroke="#1e1e1e" stroke-width="2.4" fill="none"/><path d="M384,168 L392,162 L400,166 L396,185 L386,190 M380,205 L395,200 L402,215 M383,235 L392,228 L398,245 L386,255" stroke="#4a4a4a" stroke-width="1" fill="none"/><path d="M386,172 L394,168 L396,180 Z M381,222 L390,218 L392,232 Z" fill="#b0b0b0"/><path d="M379,200 L388,196 M381,248 L392,244 L398,258 M385,262 L395,266" stroke="#3a3a3a" stroke-width="1.2" fill="none"/><path d="M383,160 L390,158 L388,172 Z" fill="#c0c0c0"/></g>
<path d="M406.6,124.0 L406.1,126.0 L406.3,128.0 L405.7,130.0 L405.3,132.0 L405.6,134.0 L406.2,136.0 L405.7,138.0 L405.4,140.0 L404.9,142.0 L405.7,144.0 L405.5,146.0 L405.7,148.0 L405.9,150.0 L406.3,152.0 L407.8,154.0 L407.9,156.0 L408.2,158.0 L408.5,160.0 L407.1,162.0 L406.9,164.0 L407.0,166.0 L406.8,168.0 L406.6,170.0 L406.2,172.0 L404.5,174.0 L405.0,176.0 L404.7,178.0 L404.0,180.0 L403.8,182.0 L404.6,184.0 L404.2,186.0 L405.9,188.0 L406.1,190.0 L405.9,192.0 L405.8,194.0 L407.1,196.0 L406.8,198.0 L407.6,200.0 L407.2,202.0 L406.2,204.0 L405.7,206.0 L405.6,208.0 L404.9,210.0 L404.1,212.0 L403.9,214.0 L404.3,216.0 L402.7,218.0 L402.3,220.0 L403.5,222.0 L403.2,224.0 L404.0,226.0 L404.2,228.0 L404.2,230.0 L405.6,232.0 L404.6,234.0 L405.3,236.0 L405.2,238.0 L406.2,240.0 L405.4,242.0 L405.2,244.0 L405.6,246.0 L404.6,248.0 L404.7,250.0 L405.0,252.0 L403.5,254.0 L403.1,256.0 L403.1,258.0 L403.7,260.0 L403.2,262.0 L402.8,264.1 L403.1,266.2 L403.1,268.3 L403.7,270.4 L403.3,272.5 L404.5,274.6 L405.0,276.7 L405.3,278.8 L405.2,280.9 L405.0,283.0" fill="none" stroke="#fff" stroke-width="1.1" stroke-dasharray="2.5 1.5" opacity="1"/>
<path d="M417,124 V283" fill="none" stroke="#fff" stroke-width="1.0" stroke-dasharray="1.5 1" opacity="1"/>
<line x1="365.1" y1="204.9" x2="456.2" y2="204.9" stroke="#c8b46e" stroke-width="0.9" opacity="0.9"/><path d="M459.2,204.9 l-4,-1.8 v3.6 z" fill="#c8b46e"/>
<line x1="402" y1="190.3" x2="415.5" y2="190.3" stroke="#f2f2f2" stroke-width="1.0"/><path d="M402,190.3 l3.5,-2 v4 z M415.5,190.3 l-3.5,-2 v4 z" fill="#f2f2f2"/>
<text x="418.2" y="181.6" font-size="15.8" font-weight="bold" fill="#fff" text-anchor="start" >13.2 µm</text>
<text x="349.0" y="278.4" font-size="15" font-weight="bold" fill="#fff" text-anchor="start" >PMMA</text>
<text x="431.0" y="263.8" font-size="15.4" font-weight="bold" fill="#fff" text-anchor="start" >matrix</text>
<text x="445.0" y="276.5" font-size="9.2" font-weight="bold" fill="#fff" text-anchor="start" >100 µm</text>
<rect x="445" y="279.6" width="31" height="1.2" fill="#f2f2f2"/>
<text x="347.8" y="143.4" font-size="18.8" font-weight="bold" fill="#fff" text-anchor="start" >VSR-0.1</text>
<g filter="url(#semC3)"><rect x="493" y="124" width="135" height="159" fill="#7c7c7c"/><path d="M522.0,160.0 C523.0,158.3 524.2,151.8 528.0,150.0 C531.8,148.2 540.3,148.2 545.0,149.0 C549.7,149.8 554.0,149.8 556.0,155.0 C558.0,160.2 557.3,171.7 557.0,180.0 C556.7,188.3 553.8,196.7 554.0,205.0 C554.2,213.3 558.2,222.8 558.0,230.0 C557.8,237.2 556.8,244.7 553.0,248.0 C549.2,251.3 540.0,251.3 535.0,250.0 C530.0,248.7 525.3,246.7 523.0,240.0 C520.7,233.3 520.8,219.2 521.0,210.0 C521.2,200.8 523.5,189.2 524.0,185.0 Z" fill="#8a8a8a"/><path d="M524,160 Q535,150 552,153 L553,182 Q538,178 524,186 Z" fill="#909090"/><path d="M529,188 L552,185 M528,199 L547,206 M531,236 L550,240 M535,214 L552,210" stroke="#3c3c3c" stroke-width="1.3" fill="none"/><path d="M525,228 L549,236 M530,203 L545,208 M533,245 L548,242" stroke="#c8c8c8" stroke-width="1.1" fill="none"/><path d="M531,238 L549,240 L547,247 L533,246 Z" fill="#555"/><rect x="568" y="124" width="60" height="159" fill="#9a9a9a"/><rect x="563" y="124" width="5" height="159" fill="#666"/><path d="M563.3,124.0 L563.4,126.1 L563.4,128.2 L563.6,130.3 L562.8,132.4 L563.1,134.5 L560.6,136.6 L561.5,138.7 L562.6,140.8 L561.6,142.9 L562.0,145.0 L560.3,147.0 L561.5,149.0 L561.2,151.0 L562.3,153.0 L562.7,155.0 L561.5,157.0 L562.4,159.0 L562.8,161.0 L564.8,163.0 L564.7,165.0 L562.9,167.1 L564.3,169.2 L562.3,171.2 L563.3,173.3 L561.8,175.4 L561.2,177.5 L563.2,179.6 L561.2,181.7 L561.0,183.8 L562.8,185.8 L562.2,187.9 L560.5,190.0 L562.4,192.1 L561.4,194.2 L562.0,196.2 L560.9,198.3 L563.0,200.4 L562.5,202.5 L563.4,204.6 L563.4,206.7 L562.0,208.8 L562.3,210.8 L562.0,212.9 L562.1,215.0 L561.6,217.1 L562.0,219.2 L562.5,221.2 L560.7,223.3 L562.2,225.4 L561.1,227.5 L560.8,229.6 L561.8,231.7 L560.7,233.8 L560.0,235.8 L560.2,237.9 L560.5,240.0 L559.1,242.0 L561.8,244.0 L559.7,246.0 L561.8,248.0 L562.4,250.0 L560.5,252.0 L562.8,254.0 L562.1,256.0 L562.9,258.0 L561.7,260.0 L561.6,262.1 L561.8,264.2 L563.6,266.3 L561.5,268.4 L562.8,270.5 L563.0,272.5 L562.9,274.6 L561.1,276.7 L561.0,278.8 L561.2,280.9 L561.0,283.0" stroke="#1e1e1e" stroke-width="2.4" fill="none"/><path d="M522.0,160.0 C523.0,158.3 524.2,151.8 528.0,150.0 C531.8,148.2 540.3,148.2 545.0,149.0 C549.7,149.8 554.0,149.8 556.0,155.0 C558.0,160.2 557.3,171.7 557.0,180.0 C556.7,188.3 553.8,196.7 554.0,205.0 C554.2,213.3 558.2,222.8 558.0,230.0 C557.8,237.2 556.8,244.7 553.0,248.0 C549.2,251.3 540.0,251.3 535.0,250.0 C530.0,248.7 525.3,246.7 523.0,240.0 C520.7,233.3 520.8,219.2 521.0,210.0 C521.2,200.8 523.5,189.2 524.0,185.0 Z" fill="none" stroke="#4a4a4a" stroke-width="1"/></g>
<path d="M556.0,155.0 C556.2,159.2 557.3,171.7 557.0,180.0 C556.7,188.3 553.8,196.7 554.0,205.0 C554.2,213.3 558.2,222.8 558.0,230.0 C557.8,237.2 556.8,244.7 553.0,248.0 C549.2,251.3 538.0,249.7 535.0,250.0" fill="none" stroke="#fff" stroke-width="1.0" stroke-dasharray="2.5 1.8" opacity="1"/>
<path d="M565.3,124.0 L565.1,126.1 L564.4,128.2 L563.8,130.3 L563.2,132.4 L564.1,134.5 L563.6,136.6 L563.8,138.7 L563.0,140.8 L563.4,142.9 L562.4,145.0 L563.6,147.0 L563.8,149.0 L563.6,151.0 L564.1,153.0 L564.6,155.0 L564.1,157.0 L565.0,159.0 L565.7,161.0 L565.1,163.0 L566.3,165.0 L565.8,167.1 L565.9,169.2 L564.8,171.2 L564.1,173.3 L565.0,175.4 L564.8,177.5 L564.0,179.6 L563.2,181.7 L563.1,183.8 L563.5,185.8 L562.7,187.9 L563.5,190.0 L563.1,192.1 L562.7,194.2 L563.5,196.2 L563.2,198.3 L564.3,200.4 L564.5,202.5 L564.0,204.6 L564.4,206.7 L564.6,208.8 L565.0,210.8 L565.4,212.9 L564.0,215.0 L564.3,217.1 L564.5,219.2 L563.7,221.2 L563.9,223.3 L562.9,225.4 L563.9,227.5 L563.1,229.6 L562.2,231.7 L562.8,233.8 L562.0,235.8 L561.6,237.9 L561.8,240.0 L561.5,242.0 L561.9,244.0 L563.3,246.0 L563.3,248.0 L562.5,250.0 L564.0,252.0 L563.1,254.0 L563.9,256.0 L565.1,258.0 L565.0,260.0 L564.3,262.1 L564.2,264.2 L564.1,266.3 L563.5,268.4 L564.7,270.5 L563.0,272.5 L563.4,274.6 L563.7,276.7 L563.0,278.8 L563.8,280.9 L562.8,283.0" fill="none" stroke="#fff" stroke-width="1.0" stroke-dasharray="2.5 1.5" opacity="1"/>
<path d="M568,124 V283" fill="none" stroke="#fff" stroke-width="1.0" stroke-dasharray="1.5 1" opacity="1"/>
<line x1="515.3" y1="208.5" x2="609.2" y2="208.5" stroke="#c8b46e" stroke-width="0.9" opacity="0.9"/><path d="M612.2,208.5 l-4,-1.8 v3.6 z" fill="#c8b46e"/>
<text x="570.6" y="191.4" font-size="15.8" font-weight="bold" fill="#fff" text-anchor="start" >9.7 µm</text>
<text x="498.0" y="277.9" font-size="15" font-weight="bold" fill="#fff" text-anchor="start" >PMMA</text>
<text x="580.0" y="262.4" font-size="15.4" font-weight="bold" fill="#fff" text-anchor="start" >matrix</text>
<text x="594.0" y="276.5" font-size="9.2" font-weight="bold" fill="#fff" text-anchor="start" >100 µm</text>
<rect x="594" y="279.6" width="31" height="1.2" fill="#f2f2f2"/>
<text x="495.8" y="143.4" font-size="18.8" font-weight="bold" fill="#fff" text-anchor="start" >VSR-0.2</text>
<g clip-path="url(#clip00)"><g filter="url(#eds00)"><rect x="47.2" y="293.5" width="72.9" height="105.5" fill="#000"/><path d="M85.2,293.5 L97.2,293.5 L97.2,399.0 L85.2,399.0 L77.2,367.5 L75.2,342.5 L79.2,317.5 Z" fill="rgb(6,42,6)"/><rect x="97.0" y="293.5" width="23.2" height="105.5" fill="rgb(27,177,27)"/></g></g>
<line x1="97.8" y1="297.5" x2="97.8" y2="395.0" stroke="#fff" stroke-width="1" stroke-dasharray="2 1.5" opacity="0.9"/>
<text x="55.4" y="311.8" font-size="13.5" font-weight="bold" fill="#fff" text-anchor="start" >V</text>
<text x="55.5" y="386.8" font-size="8.6" font-weight="bold" fill="#fff" text-anchor="start" >10 µm</text>
<rect x="61.2" y="390.4" width="12" height="1.2" fill="#ddd"/>
<g clip-path="url(#clip10)"><g filter="url(#eds10)"><rect x="117.2" y="293.5" width="72.8" height="105.5" fill="#000"/><rect x="117.2" y="293.5" width="73.0" height="105.5" fill="rgb(3,13,14)"/><path d="M151.2,293.5 L169.8,293.5 L169.8,399.0 L153.2,399.0 L141.2,367.5 L138.2,342.5 L143.2,317.5 Z" fill="rgb(17,66,72)"/><path d="M153.2,322.5 L167.2,317.5 L167.2,377.5 L153.2,375.5 L149.2,347.5 Z" fill="rgb(24,94,101)"/><rect x="169.8" y="293.5" width="20.4" height="105.5" fill="rgb(21,82,89)"/></g></g>
<line x1="170.6" y1="297.5" x2="170.6" y2="395.0" stroke="#fff" stroke-width="1" stroke-dasharray="2 1.5" opacity="0.9"/>
<text x="125.4" y="311.8" font-size="13.5" font-weight="bold" fill="#fff" text-anchor="start" >Sn</text>
<text x="125.5" y="386.8" font-size="8.6" font-weight="bold" fill="#fff" text-anchor="start" >10 µm</text>
<rect x="131.2" y="390.4" width="12" height="1.2" fill="#ddd"/>
<g clip-path="url(#clip01)"><g filter="url(#eds01)"><rect x="47.2" y="395.5" width="72.9" height="104.9" fill="#000"/><rect x="47.2" y="395.5" width="73.0" height="104.9" fill="rgb(50,29,43)"/><path d="M75.2,414.5 L91.2,409.5 L97.2,459.5 L91.2,500.5 L77.2,500.5 L73.2,449.5 Z" fill="rgb(72,42,63)"/><rect x="97.0" y="395.5" width="23.2" height="104.9" fill="rgb(68,39,59)"/></g></g>
<line x1="97.8" y1="399.5" x2="97.8" y2="496.4" stroke="#fff" stroke-width="1" stroke-dasharray="2 1.5" opacity="0.9"/>
<text x="55.4" y="413.8" font-size="13.5" font-weight="bold" fill="#fff" text-anchor="start" >Mg</text>
<text x="55.5" y="488.2" font-size="8.6" font-weight="bold" fill="#fff" text-anchor="start" >10 µm</text>
<rect x="61.2" y="491.8" width="12" height="1.2" fill="#ddd"/>
<g clip-path="url(#clip11)"><g filter="url(#eds11)"><rect x="117.2" y="395.5" width="72.8" height="104.9" fill="#000"/><rect x="117.2" y="395.5" width="73.0" height="104.9" fill="rgb(81,80,33)"/><path d="M151.2,439.5 L161.2,427.5 L166.2,449.5 L163.2,484.5 L157.2,500.5 L149.2,500.5 L151.2,469.5 Z" fill="rgb(128,126,52)"/><path d="M123.2,419.5 L129.2,414.5 L131.2,449.5 L127.2,469.5 L123.2,459.5 Z" fill="rgb(107,105,44)"/><path d="M143.2,419.5 L153.2,409.5 L159.2,415.5 L149.2,444.5 L145.2,474.5 L147.2,500.5 L134.2,500.5 L133.2,469.5 L137.2,439.5 Z" fill="rgb(19,19,8)"/></g></g>
<line x1="170.6" y1="399.5" x2="170.6" y2="496.4" stroke="#fff" stroke-width="1" stroke-dasharray="2 1.5" opacity="0.9"/>
<text x="125.4" y="413.8" font-size="13.5" font-weight="bold" fill="#fff" text-anchor="start" >O</text>
<text x="125.5" y="488.2" font-size="8.6" font-weight="bold" fill="#fff" text-anchor="start" >10 µm</text>
<rect x="131.2" y="491.8" width="12" height="1.2" fill="#ddd"/>
<g clip-path="url(#clip20)"><g filter="url(#eds20)"><rect x="195.4" y="293.5" width="73.4" height="105.5" fill="#000"/><rect x="195.4" y="293.5" width="73.6" height="105.5" fill="rgb(1,6,1)"/><path d="M230.4,293.5 L246.6,293.5 L246.6,399.0 L227.4,399.0 L221.4,367.5 L219.4,342.5 L223.4,317.5 Z" fill="rgb(21,137,21)"/><path d="M241.4,327.5 L245.4,327.5 L245.4,357.5 L241.4,357.5 Z" fill="rgb(10,66,10)"/><rect x="246.6" y="293.5" width="22.4" height="105.5" fill="rgb(23,150,23)"/></g></g>
<line x1="247.4" y1="297.5" x2="247.4" y2="395.0" stroke="#fff" stroke-width="1" stroke-dasharray="2 1.5" opacity="0.9"/>
<text x="203.6" y="311.8" font-size="13.5" font-weight="bold" fill="#fff" text-anchor="start" >V</text>
<text x="203.7" y="386.8" font-size="8.6" font-weight="bold" fill="#fff" text-anchor="start" >10 µm</text>
<rect x="209.4" y="390.4" width="12" height="1.2" fill="#ddd"/>
<g clip-path="url(#clip30)"><g filter="url(#eds30)"><rect x="266.6" y="293.5" width="73.2" height="105.5" fill="#000"/><rect x="266.6" y="293.5" width="51.2" height="105.5" fill="rgb(3,13,14)"/><rect x="317.8" y="293.5" width="22.0" height="105.5" fill="rgb(34,129,139)"/><circle cx="327.6" cy="372.5" r="4" fill="rgb(7,29,31)"/><circle cx="324.6" cy="317.5" r="3" fill="rgb(10,39,42)"/></g></g>
<line x1="318.6" y1="297.5" x2="318.6" y2="395.0" stroke="#fff" stroke-width="1" stroke-dasharray="2 1.5" opacity="0.9"/>
<text x="274.8" y="311.8" font-size="13.5" font-weight="bold" fill="#fff" text-anchor="start" >Sn</text>
<text x="274.9" y="386.8" font-size="8.6" font-weight="bold" fill="#fff" text-anchor="start" >10 µm</text>
<rect x="280.6" y="390.4" width="12" height="1.2" fill="#ddd"/>
<g clip-path="url(#clip21)"><g filter="url(#eds21)"><rect x="195.4" y="395.5" width="73.4" height="104.9" fill="#000"/><rect x="195.4" y="395.5" width="73.6" height="104.9" fill="rgb(49,9,54)"/><rect x="246.6" y="395.5" width="22.4" height="104.9" fill="rgb(76,14,84)"/></g></g>
<line x1="247.4" y1="399.5" x2="247.4" y2="496.4" stroke="#fff" stroke-width="1" stroke-dasharray="2 1.5" opacity="0.9"/>
<text x="203.6" y="413.8" font-size="13.5" font-weight="bold" fill="#fff" text-anchor="start" >Ru</text>
<text x="203.7" y="488.2" font-size="8.6" font-weight="bold" fill="#fff" text-anchor="start" >10 µm</text>
<rect x="209.4" y="491.8" width="12" height="1.2" fill="#ddd"/>
<g clip-path="url(#clip31)"><g filter="url(#eds31)"><rect x="266.6" y="395.5" width="73.2" height="104.9" fill="#000"/><rect x="266.6" y="395.5" width="73.2" height="104.9" fill="rgb(15,9,13)"/><path d="M292.6,407.5 L300.6,404.5 L305.6,429.5 L306.6,459.5 L302.6,491.5 L290.6,494.5 L284.6,459.5 L285.6,429.5 Z" fill="rgb(102,59,89)"/><path d="M296.6,429.5 L304.6,427.5 L305.6,459.5 L300.6,479.5 L297.6,469.5 Z" fill="rgb(171,99,148)"/><rect x="317.8" y="395.5" width="22.0" height="104.9" fill="rgb(31,18,27)"/></g></g>
<line x1="318.6" y1="399.5" x2="318.6" y2="496.4" stroke="#fff" stroke-width="1" stroke-dasharray="2 1.5" opacity="0.9"/>
<text x="274.8" y="413.8" font-size="13.5" font-weight="bold" fill="#fff" text-anchor="start" >Mg</text>
<text x="274.9" y="488.2" font-size="8.6" font-weight="bold" fill="#fff" text-anchor="start" >10 µm</text>
<rect x="280.6" y="491.8" width="12" height="1.2" fill="#ddd"/>
<g clip-path="url(#clip40)"><g filter="url(#eds40)"><rect x="341.2" y="293.5" width="72.5" height="105.5" fill="#000"/><rect x="366.2" y="293.5" width="15.5" height="105.5" fill="url(#gr401)"/><rect x="381.7" y="293.5" width="32.0" height="105.5" fill="rgb(26,173,26)"/></g></g>
<line x1="382.5" y1="297.5" x2="382.5" y2="395.0" stroke="#fff" stroke-width="1" stroke-dasharray="2 1.5" opacity="0.9"/>
<text x="349.4" y="311.8" font-size="13.5" font-weight="bold" fill="#fff" text-anchor="start" >V</text>
<text x="349.5" y="386.8" font-size="8.6" font-weight="bold" fill="#fff" text-anchor="start" >10 µm</text>
<rect x="355.2" y="390.4" width="12" height="1.2" fill="#ddd"/>
<g clip-path="url(#clip50)"><g filter="url(#eds50)"><rect x="411.0" y="293.5" width="73.3" height="105.5" fill="#000"/><rect x="411.0" y="293.5" width="73.3" height="105.5" fill="rgb(2,9,10)"/><rect x="433.0" y="293.5" width="19.6" height="105.5" fill="url(#gr502)"/><rect x="452.6" y="293.5" width="31.7" height="105.5" fill="rgb(39,147,159)"/></g></g>
<line x1="453.4" y1="297.5" x2="453.4" y2="395.0" stroke="#fff" stroke-width="1" stroke-dasharray="2 1.5" opacity="0.9"/>
<text x="419.2" y="311.8" font-size="13.5" font-weight="bold" fill="#fff" text-anchor="start" >Sn</text>
<text x="419.3" y="386.8" font-size="8.6" font-weight="bold" fill="#fff" text-anchor="start" >10 µm</text>
<rect x="425.0" y="390.4" width="12" height="1.2" fill="#ddd"/>
<g clip-path="url(#clip41)"><g filter="url(#eds41)"><rect x="341.2" y="395.5" width="72.5" height="104.9" fill="#000"/><rect x="341.2" y="395.5" width="72.5" height="104.9" fill="rgb(38,7,42)"/><rect x="367.2" y="395.5" width="14.5" height="104.9" fill="rgb(136,25,151)"/><rect x="381.7" y="395.5" width="32.0" height="104.9" fill="rgb(68,12,75)"/></g></g>
<line x1="382.5" y1="399.5" x2="382.5" y2="496.4" stroke="#fff" stroke-width="1" stroke-dasharray="2 1.5" opacity="0.9"/>
<text x="349.4" y="413.8" font-size="13.5" font-weight="bold" fill="#fff" text-anchor="start" >Ru</text>
<text x="349.5" y="488.2" font-size="8.6" font-weight="bold" fill="#fff" text-anchor="start" >10 µm</text>
<rect x="355.2" y="491.8" width="12" height="1.2" fill="#ddd"/>
<g clip-path="url(#clip51)"><g filter="url(#eds51)"><rect x="411.0" y="395.5" width="73.3" height="104.9" fill="#000"/><rect x="411.0" y="395.5" width="73.3" height="104.9" fill="rgb(15,9,13)"/><rect x="442.0" y="395.5" width="10.0" height="104.9" fill="rgb(193,112,168)"/><rect x="452.6" y="395.5" width="31.7" height="104.9" fill="rgb(22,13,19)"/></g></g>
<line x1="453.4" y1="399.5" x2="453.4" y2="496.4" stroke="#fff" stroke-width="1" stroke-dasharray="2 1.5" opacity="0.9"/>
<text x="419.2" y="413.8" font-size="13.5" font-weight="bold" fill="#fff" text-anchor="start" >Mg</text>
<text x="419.3" y="488.2" font-size="8.6" font-weight="bold" fill="#fff" text-anchor="start" >10 µm</text>
<rect x="425.0" y="491.8" width="12" height="1.2" fill="#ddd"/>
<g clip-path="url(#clip60)"><g filter="url(#eds60)"><rect x="489.2" y="293.5" width="73.3" height="105.5" fill="#000"/><rect x="518.2" y="293.5" width="17.8" height="105.5" fill="url(#gr601)"/><rect x="536.0" y="293.5" width="26.5" height="105.5" fill="rgb(23,150,23)"/></g></g>
<line x1="536.8" y1="297.5" x2="536.8" y2="395.0" stroke="#fff" stroke-width="1" stroke-dasharray="2 1.5" opacity="0.9"/>
<text x="497.4" y="311.8" font-size="13.5" font-weight="bold" fill="#fff" text-anchor="start" >V</text>
<text x="497.5" y="386.8" font-size="8.6" font-weight="bold" fill="#fff" text-anchor="start" >10 µm</text>
<rect x="503.2" y="390.4" width="12" height="1.2" fill="#ddd"/>
<g clip-path="url(#clip70)"><g filter="url(#eds70)"><rect x="561.2" y="293.5" width="72.8" height="105.5" fill="#000"/><rect x="561.2" y="293.5" width="46.3" height="105.5" fill="rgb(2,9,10)"/><rect x="607.5" y="293.5" width="26.5" height="105.5" fill="rgb(37,141,152)"/></g></g>
<line x1="608.3" y1="297.5" x2="608.3" y2="395.0" stroke="#fff" stroke-width="1" stroke-dasharray="2 1.5" opacity="0.9"/>
<text x="569.4" y="311.8" font-size="13.5" font-weight="bold" fill="#fff" text-anchor="start" >Sn</text>
<text x="569.5" y="386.8" font-size="8.6" font-weight="bold" fill="#fff" text-anchor="start" >10 µm</text>
<rect x="575.2" y="390.4" width="12" height="1.2" fill="#ddd"/>
<g clip-path="url(#clip61)"><g filter="url(#eds61)"><rect x="489.2" y="395.5" width="73.3" height="104.9" fill="#000"/><rect x="489.2" y="395.5" width="73.3" height="104.9" fill="rgb(15,2,16)"/><path d="M523.2,395.5 L536.0,395.5 L536.0,501.0 L521.2,501.0 L519.2,459.5 L522.2,429.5 Z" fill="rgb(114,21,126)"/><rect x="536.0" y="395.5" width="26.5" height="104.9" fill="rgb(129,24,142)"/></g></g>
<line x1="536.8" y1="399.5" x2="536.8" y2="496.4" stroke="#fff" stroke-width="1" stroke-dasharray="2 1.5" opacity="0.9"/>
<text x="497.4" y="413.8" font-size="13.5" font-weight="bold" fill="#fff" text-anchor="start" >Ru</text>
<text x="497.5" y="488.2" font-size="8.6" font-weight="bold" fill="#fff" text-anchor="start" >10 µm</text>
<rect x="503.2" y="491.8" width="12" height="1.2" fill="#ddd"/>
<g clip-path="url(#clip71)"><g filter="url(#eds71)"><rect x="561.2" y="395.5" width="72.8" height="104.9" fill="#000"/><rect x="561.2" y="395.5" width="72.8" height="104.9" fill="rgb(27,15,23)"/><rect x="596.7" y="395.5" width="10.8" height="104.9" fill="rgb(141,81,122)"/><rect x="607.5" y="395.5" width="26.5" height="104.9" fill="rgb(41,23,35)"/></g></g>
<line x1="608.3" y1="399.5" x2="608.3" y2="496.4" stroke="#fff" stroke-width="1" stroke-dasharray="2 1.5" opacity="0.9"/>
<text x="569.4" y="413.8" font-size="13.5" font-weight="bold" fill="#fff" text-anchor="start" >Mg</text>
<text x="569.5" y="488.2" font-size="8.6" font-weight="bold" fill="#fff" text-anchor="start" >10 µm</text>
<rect x="575.2" y="491.8" width="12" height="1.2" fill="#ddd"/>
<rect x="52.9" y="511.4" width="134.5" height="108.2" fill="#fff"/>
<rect x="52.9" y="511.4" width="33.7" height="108.2" fill="#fcf2f3"/>
<rect x="86.6" y="511.4" width="53.6" height="108.2" fill="#ebf9fc"/>
<line x1="86.6" y1="511.4" x2="86.6" y2="619.6" stroke="#c8c8d0" stroke-width="0.5"/>
<line x1="140.1" y1="511.4" x2="140.1" y2="619.6" stroke="#c8c8d0" stroke-width="0.5"/>
<path d="M52.9,516.9 L54.7,518.5 L56.5,522.4 L58.3,523.7 L60.1,523.0 L62.0,521.9 L63.8,522.1 L65.6,523.0 L67.4,523.1 L69.2,523.9 L71.0,525.2 L72.8,528.2 L74.6,529.9 L76.4,531.2 L78.2,532.9 L80.0,535.3 L81.9,536.6 L83.7,537.6 L85.5,538.1 L87.0,537.9 L88.6,538.4 L90.1,537.6 L91.7,538.2 L93.2,537.7 L94.8,537.5 L96.3,537.4 L97.9,537.5 L99.4,537.9 L101.0,537.3 L102.5,537.6 L104.1,537.6 L105.6,537.4 L107.2,537.5 L108.7,537.2 L110.2,537.1 L111.7,537.3 L113.2,537.6 L114.7,537.4 L116.2,537.4 L117.8,537.6 L119.3,537.5 L120.8,537.3 L122.3,537.7 L123.8,537.7 L125.3,537.3 L126.8,537.6 L128.3,537.5 L129.8,537.8 L131.3,537.7 L132.8,537.3 L134.3,537.9 L135.9,537.2 L137.4,537.4 L138.9,537.7 L140.4,537.2 L141.9,537.5 L143.4,537.1 L145.2,536.1 L147.0,534.7 L148.6,534.6 L150.1,534.8 L151.6,534.4 L153.1,534.7 L154.7,534.6 L156.2,534.6 L157.7,534.5 L159.3,534.8 L160.8,534.9 L162.3,534.5 L163.9,534.6 L165.4,534.1 L166.9,534.7 L168.5,534.6 L170.0,534.9 L171.5,534.8 L173.1,534.3 L174.6,534.4 L176.1,534.6 L177.7,534.1 L179.2,534.5 L180.7,534.2 L182.2,534.2 L183.8,534.1 L185.3,534.7 L186.8,534.5" fill="none" stroke="#e88080" stroke-width="0.9" stroke-linejoin="round"/>
<path d="M52.9,546.1 L54.4,546.2 L55.9,546.3 L57.4,546.7 L58.9,546.1 L60.4,546.5 L62.0,546.6 L63.5,546.9 L65.0,546.9 L66.5,547.0 L68.0,546.6 L69.5,546.7 L71.0,546.7 L72.5,547.2 L74.0,547.3 L75.5,546.7 L77.0,546.7 L78.5,546.8 L80.0,546.8 L81.9,547.4 L83.7,548.2 L85.5,548.3 L87.0,548.1 L88.6,548.3 L90.1,548.1 L91.7,548.1 L93.2,548.2 L94.8,547.7 L96.3,547.3 L97.9,547.1 L99.4,546.8 L101.0,546.1 L102.5,546.6 L104.1,546.3 L105.6,546.3 L107.2,546.2 L108.8,545.9 L110.4,545.8 L112.0,545.4 L113.6,545.7 L115.2,545.1 L116.9,544.9 L118.5,544.9 L120.1,544.8 L121.7,544.9 L123.5,543.9 L125.3,542.1 L127.1,540.5 L128.9,539.7 L130.7,541.1 L132.5,543.4 L134.3,545.3 L136.2,545.3 L138.0,545.5 L139.8,545.8 L141.6,546.9 L143.4,547.9 L145.2,546.9 L147.0,546.0 L148.8,545.4 L150.4,545.0 L151.9,545.0 L153.4,544.7 L154.9,544.7 L156.4,544.8 L158.0,544.7 L159.5,545.2 L161.0,544.6 L162.5,544.5 L164.0,545.2 L165.6,544.8 L167.1,544.5 L168.6,544.8 L170.1,544.3 L171.6,544.7 L173.2,545.0 L174.7,544.9 L176.2,544.7 L177.7,544.4 L179.2,544.4 L180.8,544.3 L182.3,544.7 L183.8,544.5 L185.3,544.7 L186.8,544.5" fill="none" stroke="#c98850" stroke-width="0.9" stroke-linejoin="round"/>
<path d="M52.9,568.5 L54.5,568.4 L56.0,568.8 L57.6,569.0 L59.1,568.9 L60.7,568.8 L62.2,568.9 L63.8,568.8 L65.3,568.4 L66.9,568.6 L68.4,568.5 L70.0,568.2 L71.5,568.2 L73.1,568.4 L74.6,568.4 L76.2,568.8 L77.7,569.0 L79.3,568.6 L80.8,568.9 L82.4,569.0 L83.9,569.0 L85.5,568.5 L86.8,563.6 L88.2,558.8 L89.7,558.1 L91.2,556.9 L92.7,556.6 L94.3,556.8 L95.9,556.8 L97.4,556.4 L99.0,556.5 L100.6,556.6 L102.1,556.0 L103.7,556.4 L105.3,556.6 L106.8,556.4 L108.4,556.3 L110.0,556.1 L111.5,555.8 L113.1,556.3 L114.7,555.9 L116.2,556.2 L117.8,556.2 L119.3,555.2 L120.8,554.4 L122.3,554.1 L123.8,553.4 L125.3,552.7 L127.1,550.2 L128.9,547.7 L130.7,548.8 L132.5,549.7 L134.3,549.7 L136.2,550.8 L138.0,551.9 L139.8,552.1 L140.7,555.9 L141.6,560.0 L142.5,563.2 L143.4,566.6 L145.0,567.4 L146.5,567.1 L148.1,567.0 L149.6,567.4 L151.2,567.0 L152.7,567.4 L154.3,567.4 L155.8,567.0 L157.4,567.0 L158.9,567.1 L160.5,567.1 L162.0,567.5 L163.6,567.3 L165.1,567.4 L166.7,567.3 L168.2,567.9 L169.8,567.5 L171.3,567.7 L172.9,567.8 L174.4,568.1 L176.0,567.8 L177.5,568.2 L179.1,567.9 L180.6,568.0 L182.2,568.0 L183.7,567.6 L185.3,567.9 L186.8,568.0" fill="none" stroke="#f2b080" stroke-width="0.9" stroke-linejoin="round"/>
<path d="M52.9,578.9 L54.4,578.8 L55.9,579.4 L57.4,578.9 L58.9,579.2 L60.4,579.4 L62.0,579.2 L63.5,579.0 L65.0,579.2 L66.5,579.2 L68.0,579.4 L69.5,578.8 L71.0,579.1 L72.5,578.9 L74.0,578.9 L75.5,579.3 L77.0,579.0 L78.5,579.1 L80.0,579.2 L81.6,579.3 L83.1,578.9 L84.6,579.0 L86.1,578.9 L87.6,578.9 L89.1,579.0 L90.6,578.8 L92.1,578.8 L93.6,578.8 L95.1,579.1 L96.6,578.9 L98.2,579.0 L99.7,579.0 L101.2,578.5 L102.7,578.7 L104.2,579.0 L105.7,578.9 L107.2,578.3 L108.7,578.3 L110.2,578.5 L111.7,578.2 L113.2,578.3 L114.7,578.2 L116.2,578.7 L117.8,578.7 L119.3,578.8 L120.8,578.2 L122.3,578.7 L123.8,578.6 L125.3,578.2 L127.1,577.6 L128.9,576.4 L130.7,576.4 L132.5,578.2 L134.3,578.4 L135.9,578.5 L137.4,579.0 L138.9,579.0 L140.4,578.6 L141.9,578.9 L143.4,579.0 L145.2,577.9 L147.0,575.8 L148.8,574.9 L150.6,575.0 L152.4,573.9 L154.3,573.8 L156.1,573.5 L157.9,574.0 L159.7,576.0 L161.5,577.1 L163.1,577.0 L164.7,576.7 L166.3,577.5 L167.8,577.5 L169.4,577.7 L171.0,577.1 L172.6,577.4 L174.2,577.4 L175.8,578.1 L177.3,577.9 L178.9,577.9 L180.5,578.2 L182.1,578.7 L183.7,578.7 L185.3,578.3 L186.8,578.5" fill="none" stroke="#60dde8" stroke-width="0.9" stroke-linejoin="round"/>
<path d="M52.9,586.5 L54.5,587.0 L56.0,586.7 L57.6,586.8 L59.1,586.5 L60.7,586.4 L62.2,586.8 L63.8,586.7 L65.3,586.4 L66.9,587.0 L68.4,586.8 L70.0,586.9 L71.5,586.5 L73.1,586.9 L74.6,586.4 L76.2,586.9 L77.7,586.7 L79.3,586.6 L80.8,586.7 L82.4,587.0 L83.9,586.6 L85.5,586.5 L87.3,585.9 L89.1,584.1 L90.9,583.3 L92.4,583.3 L93.9,583.2 L95.5,583.3 L97.0,583.4 L98.5,583.4 L100.0,583.7 L101.5,583.4 L103.1,583.5 L104.6,583.3 L106.1,583.4 L107.6,583.2 L109.1,583.4 L110.6,583.2 L112.2,583.6 L113.7,583.5 L115.2,583.3 L116.7,583.5 L118.2,583.8 L119.8,583.3 L121.3,583.7 L122.8,583.5 L124.3,583.5 L125.8,583.7 L127.3,583.4 L128.9,583.5 L130.4,583.6 L131.9,583.8 L133.4,583.4 L134.9,583.7 L136.5,583.6 L138.0,583.6 L139.8,584.0 L141.6,585.0 L143.4,585.3 L145.0,585.4 L146.5,585.3 L148.1,585.7 L149.6,585.4 L151.2,585.3 L152.7,585.2 L154.3,585.6 L155.8,585.6 L157.4,585.4 L158.9,585.2 L160.5,585.1 L162.0,585.0 L163.6,585.1 L165.1,584.8 L166.7,585.0 L168.2,584.8 L169.8,585.1 L171.3,585.1 L172.9,584.8 L174.4,584.6 L176.0,584.9 L177.5,584.5 L179.1,584.5 L180.6,584.3 L182.2,584.5 L183.7,584.5 L185.3,584.5 L186.8,584.5" fill="none" stroke="#8080e6" stroke-width="0.9" stroke-linejoin="round"/>
<path d="M52.9,618.2 L54.4,618.5 L55.9,618.0 L57.4,618.3 L58.9,618.1 L60.4,618.4 L62.0,618.0 L63.5,618.0 L65.0,618.2 L66.5,618.1 L68.0,618.5 L69.5,618.4 L71.0,618.6 L72.5,618.5 L74.0,618.5 L75.5,618.7 L77.0,618.2 L78.5,618.1 L80.0,618.8 L81.9,616.5 L83.7,615.7 L85.5,616.6 L87.3,616.9 L89.1,614.5 L90.9,611.4 L92.7,610.8 L94.5,610.1 L96.3,609.8 L97.9,609.1 L99.4,609.5 L101.0,609.5 L102.5,609.8 L104.0,609.8 L105.6,609.8 L107.1,609.5 L108.7,609.8 L110.2,609.6 L111.8,609.5 L113.3,609.1 L114.8,608.8 L116.4,608.9 L117.9,609.1 L119.5,608.8 L121.0,609.5 L122.6,609.2 L124.1,609.3 L125.6,609.2 L127.2,609.3 L128.7,609.0 L130.3,608.5 L131.8,609.3 L133.3,609.3 L134.9,609.0 L136.4,609.0 L138.0,609.2 L139.3,609.6 L140.7,611.2 L142.0,607.8 L143.4,604.6 L144.3,598.0 L145.2,591.7 L147.0,592.0 L148.8,593.2 L150.6,593.0 L152.4,592.0 L154.3,594.4 L156.1,597.0 L157.9,597.9 L159.7,598.8 L161.5,597.4 L163.3,596.1 L165.1,597.1 L166.9,598.6 L168.7,599.3 L170.6,600.2 L172.4,596.8 L174.2,594.1 L176.0,592.8 L177.8,592.1 L179.6,592.8 L181.4,593.7 L183.2,593.2 L185.0,592.2 L186.8,591.5" fill="none" stroke="#333333" stroke-width="0.9" stroke-linejoin="round"/>
<rect x="52.9" y="511.4" width="134.5" height="108.2" fill="none" stroke="#555" stroke-width="0.8"/>
<line x1="52.9" y1="619.6" x2="52.9" y2="621.4" stroke="#555" stroke-width="0.6"/>
<text x="52.9" y="626.2" font-size="5.7" font-weight="bold" fill="#333" text-anchor="middle" >0</text>
<line x1="71.0" y1="619.6" x2="71.0" y2="621.4" stroke="#555" stroke-width="0.6"/>
<text x="71.0" y="626.2" font-size="5.7" font-weight="bold" fill="#333" text-anchor="middle" >10</text>
<line x1="89.1" y1="619.6" x2="89.1" y2="621.4" stroke="#555" stroke-width="0.6"/>
<text x="89.1" y="626.2" font-size="5.7" font-weight="bold" fill="#333" text-anchor="middle" >20</text>
<line x1="107.2" y1="619.6" x2="107.2" y2="621.4" stroke="#555" stroke-width="0.6"/>
<text x="107.2" y="626.2" font-size="5.7" font-weight="bold" fill="#333" text-anchor="middle" >30</text>
<line x1="125.3" y1="619.6" x2="125.3" y2="621.4" stroke="#555" stroke-width="0.6"/>
<text x="125.3" y="626.2" font-size="5.7" font-weight="bold" fill="#333" text-anchor="middle" >40</text>
<line x1="143.4" y1="619.6" x2="143.4" y2="621.4" stroke="#555" stroke-width="0.6"/>
<text x="143.4" y="626.2" font-size="5.7" font-weight="bold" fill="#333" text-anchor="middle" >50</text>
<line x1="161.5" y1="619.6" x2="161.5" y2="621.4" stroke="#555" stroke-width="0.6"/>
<text x="161.5" y="626.2" font-size="5.7" font-weight="bold" fill="#333" text-anchor="middle" >60</text>
<line x1="179.6" y1="619.6" x2="179.6" y2="621.4" stroke="#555" stroke-width="0.6"/>
<text x="179.6" y="626.2" font-size="5.7" font-weight="bold" fill="#333" text-anchor="middle" >70</text>
<text x="122.9" y="632.9" font-size="7.1" font-weight="bold" fill="#333" text-anchor="middle" >Distance (µm)</text>
<text x="0.0" y="0.0" font-size="7.2" font-weight="bold" fill="#333" text-anchor="middle" transform="translate(48.699999999999996,567.0) rotate(-90)">Intensity (a.u.)</text>
<text x="88.3" y="521.2" font-size="8.5" font-weight="bold" fill="#222" text-anchor="start" >VSR-0&#160;&#160;&#160;100h</text>
<text x="56.3" y="519.8" font-size="7.0" font-weight="bold" fill="#333" text-anchor="start" >C</text>
<text x="56.3" y="545.3" font-size="7.0" font-weight="bold" fill="#333" text-anchor="start" >O</text>
<text x="56.3" y="568.2" font-size="7.0" font-weight="bold" fill="#333" text-anchor="start" >Cl</text>
<text x="56.3" y="577.1" font-size="7.0" font-weight="bold" fill="#333" text-anchor="start" >Mg</text>
<text x="56.3" y="586.7" font-size="7.0" font-weight="bold" fill="#333" text-anchor="start" >Sn</text>
<text x="56.3" y="616.3" font-size="7.0" font-weight="bold" fill="#333" text-anchor="start" >V</text>
<text x="185.3" y="617.4" font-size="8.8" font-weight="bold" fill="#222" text-anchor="end" >matrix</text>
<rect x="200.5" y="511.4" width="134.1" height="108.0" fill="#fff"/>
<rect x="200.5" y="511.4" width="31.1" height="108.0" fill="#fcf2f3"/>
<rect x="231.6" y="511.4" width="56.5" height="108.0" fill="#ebf9fc"/>
<line x1="231.6" y1="511.4" x2="231.6" y2="619.4" stroke="#c8c8d0" stroke-width="0.5"/>
<line x1="288.1" y1="511.4" x2="288.1" y2="619.4" stroke="#c8c8d0" stroke-width="0.5"/>
<path d="M200.5,533.3 L202.3,531.7 L204.1,527.7 L205.9,523.6 L207.6,521.8 L209.4,521.4 L211.2,518.8 L213.0,517.2 L214.8,516.3 L216.6,516.0 L218.4,516.7 L220.2,517.2 L221.9,519.0 L223.7,522.2 L225.5,523.9 L227.0,524.7 L228.6,527.3 L230.1,528.9 L231.6,530.0 L233.1,531.3 L234.7,534.5 L236.2,536.3 L238.0,536.1 L239.8,537.4 L241.6,538.1 L243.4,538.7 L244.9,538.6 L246.4,538.3 L247.9,538.7 L249.4,538.5 L251.0,538.2 L252.5,538.2 L254.0,538.5 L255.5,538.4 L257.0,538.3 L258.5,538.2 L260.0,538.3 L261.6,538.3 L263.1,538.6 L264.6,538.1 L266.1,538.5 L267.6,538.5 L269.1,538.1 L270.6,538.5 L272.2,538.4 L273.7,538.5 L275.2,538.1 L276.7,538.1 L278.2,538.1 L279.7,538.4 L281.2,538.2 L282.8,538.0 L284.3,538.0 L285.8,537.9 L287.3,537.7 L288.8,537.7 L290.3,538.2 L291.8,537.8 L293.4,538.2 L294.9,537.7 L296.4,537.7 L297.9,537.8 L299.4,537.6 L300.9,537.7 L302.4,538.0 L304.0,538.0 L305.5,537.9 L307.0,537.8 L308.5,537.9 L310.0,537.9 L311.5,537.7 L313.1,537.7 L314.6,537.3 L316.1,537.7 L317.6,537.5 L319.1,537.7 L320.6,537.6 L322.1,537.4 L323.7,537.3 L325.2,537.8 L326.7,537.3 L328.2,537.5 L329.7,537.4 L331.2,537.4 L332.7,537.5" fill="none" stroke="#e88080" stroke-width="0.9" stroke-linejoin="round"/>
<path d="M200.5,557.1 L202.1,557.3 L203.6,556.9 L205.2,557.1 L206.7,556.9 L208.3,557.0 L209.8,556.9 L211.4,556.8 L212.9,556.8 L214.5,556.8 L216.0,557.2 L217.6,557.0 L219.2,556.8 L220.7,557.2 L222.3,557.3 L223.8,557.0 L225.4,556.8 L226.9,556.8 L228.5,556.8 L230.0,556.9 L231.6,556.8 L232.5,552.3 L233.4,547.9 L234.9,547.5 L236.5,546.7 L238.0,546.1 L239.8,546.7 L241.6,548.2 L243.4,549.0 L245.0,548.9 L246.6,549.0 L248.3,548.9 L249.9,549.2 L251.5,549.7 L253.1,549.3 L254.8,549.7 L256.4,549.9 L258.0,550.1 L259.6,549.8 L261.3,549.9 L263.0,550.5 L264.8,552.2 L266.6,553.8 L268.4,554.8 L270.2,555.5 L272.0,556.2 L273.5,555.7 L275.0,555.7 L276.5,556.1 L278.1,556.2 L279.6,556.0 L281.1,556.1 L282.6,555.7 L284.1,555.9 L285.7,556.3 L287.2,556.2 L288.7,556.2 L290.2,556.3 L291.7,555.8 L293.2,555.8 L294.8,555.8 L296.3,556.0 L297.8,556.1 L299.3,556.3 L300.8,556.1 L302.4,556.1 L303.9,556.2 L305.4,556.0 L306.9,556.0 L308.4,555.7 L310.0,556.2 L311.5,555.8 L313.0,556.3 L314.5,556.1 L316.0,555.9 L317.5,555.8 L319.1,555.9 L320.6,556.1 L322.1,556.1 L323.6,555.8 L325.1,555.7 L326.7,556.0 L328.2,556.0 L329.7,555.9 L331.2,555.8 L332.7,556.0" fill="none" stroke="#c98850" stroke-width="0.9" stroke-linejoin="round"/>
<path d="M200.5,584.8 L202.1,584.4 L203.6,584.5 L205.2,584.5 L206.8,584.7 L208.3,584.3 L209.9,584.3 L211.4,583.8 L213.0,583.4 L214.6,583.2 L216.1,583.5 L217.7,583.1 L219.3,582.7 L220.8,582.4 L222.4,582.6 L224.0,582.6 L225.5,582.5 L227.3,581.7 L229.1,580.4 L230.9,578.9 L232.7,577.8 L234.5,576.8 L236.2,575.3 L238.0,574.5 L239.8,575.2 L241.6,576.2 L243.4,577.2 L244.9,577.1 L246.4,577.0 L247.9,576.8 L249.4,577.3 L250.9,576.9 L252.4,577.2 L253.9,576.8 L255.4,576.8 L256.9,577.2 L258.4,576.9 L259.9,577.3 L261.4,577.0 L263.0,576.8 L264.5,576.8 L266.0,577.0 L267.5,577.1 L269.0,577.3 L270.5,576.8 L272.0,576.9 L273.8,575.8 L275.6,573.8 L277.3,570.8 L279.1,569.7 L280.9,567.5 L282.7,563.2 L284.5,561.2 L286.3,561.7 L288.1,562.1 L289.5,572.3 L290.9,582.3 L292.5,581.9 L294.0,581.9 L295.5,582.4 L297.0,582.3 L298.6,582.0 L300.1,582.5 L301.6,582.4 L303.2,582.5 L304.7,582.6 L306.2,582.7 L307.7,582.7 L309.3,583.0 L310.8,583.1 L312.3,583.6 L313.9,583.2 L315.4,583.7 L316.9,583.3 L318.4,583.4 L320.2,582.8 L322.0,581.1 L323.8,580.0 L325.6,580.6 L327.4,582.6 L329.2,583.4 L331.0,583.5 L332.7,583.0" fill="none" stroke="#60dde8" stroke-width="0.9" stroke-linejoin="round"/>
<path d="M200.5,591.9 L202.0,591.9 L203.5,592.2 L205.0,591.8 L206.5,592.0 L208.0,592.1 L209.5,592.1 L211.0,591.8 L212.5,591.8 L214.0,591.8 L215.5,592.2 L217.1,591.9 L218.6,592.1 L220.1,592.2 L221.6,591.9 L223.1,591.9 L224.6,592.2 L226.1,592.0 L227.6,591.9 L229.1,592.1 L230.6,591.9 L232.1,591.9 L233.6,591.8 L235.1,592.1 L236.6,592.2 L238.1,592.1 L239.6,592.2 L241.1,591.8 L242.6,591.9 L244.1,592.0 L245.6,592.2 L247.2,592.2 L248.7,592.0 L250.2,591.9 L251.7,592.0 L253.2,592.0 L254.7,592.2 L256.2,591.9 L257.7,592.1 L259.2,592.1 L260.7,592.1 L262.2,592.1 L263.7,592.0 L265.2,591.9 L266.7,591.9 L268.2,591.9 L269.7,592.1 L271.2,591.8 L272.7,591.9 L274.2,592.1 L275.7,591.9 L277.2,591.8 L278.8,591.8 L280.3,592.0 L281.8,591.9 L283.3,592.2 L284.8,592.2 L286.3,592.2 L288.1,591.8 L289.9,591.3 L291.6,591.0 L293.4,591.0 L294.9,591.1 L296.4,591.0 L298.0,590.9 L299.5,590.9 L301.0,591.0 L302.5,591.0 L304.0,591.0 L305.5,591.0 L307.0,590.9 L308.5,590.7 L310.1,590.9 L311.6,590.7 L313.1,590.8 L314.6,590.7 L316.1,590.8 L317.6,590.5 L319.1,590.5 L320.6,590.5 L322.2,590.4 L323.7,590.7 L325.2,590.6 L326.7,590.5 L328.2,590.5 L329.7,590.7 L331.2,590.5 L332.7,590.5" fill="none" stroke="#70a8e8" stroke-width="0.9" stroke-linejoin="round"/>
<path d="M200.5,602.5 L202.0,602.9 L203.5,602.8 L205.0,603.0 L206.5,602.5 L208.0,602.7 L209.6,602.9 L211.1,602.9 L212.6,602.9 L214.1,602.4 L215.6,602.6 L217.1,602.5 L218.6,602.5 L220.1,603.0 L221.6,602.7 L223.1,603.0 L224.7,602.6 L226.2,602.9 L227.7,602.7 L229.2,602.6 L230.7,602.9 L232.2,603.0 L233.7,602.5 L235.2,602.8 L236.7,602.8 L238.2,602.5 L239.8,602.6 L241.3,602.5 L242.8,602.5 L244.3,602.6 L245.8,602.8 L247.3,602.8 L248.8,602.5 L250.3,602.4 L251.8,602.6 L253.3,602.8 L254.8,602.5 L256.4,602.6 L257.9,602.5 L259.4,602.9 L260.9,602.7 L262.4,602.4 L263.9,602.5 L265.4,602.6 L266.9,602.7 L268.4,602.8 L269.9,602.5 L271.5,602.5 L273.0,602.8 L274.5,602.6 L276.0,602.6 L277.5,602.6 L279.0,603.0 L280.5,602.6 L282.0,602.7 L283.5,602.6 L285.0,602.6 L286.6,602.9 L288.1,603.0 L289.9,599.8 L291.6,596.8 L293.2,597.1 L294.9,596.9 L296.5,596.8 L298.1,597.4 L299.7,597.2 L301.3,597.5 L302.9,597.3 L304.5,597.7 L306.1,597.5 L307.7,597.3 L309.3,597.3 L310.9,597.7 L312.5,598.0 L314.1,598.4 L315.7,598.1 L317.3,598.7 L318.8,598.7 L320.4,599.0 L322.0,598.8 L323.8,599.9 L325.6,601.0 L327.4,599.3 L329.2,596.8 L331.0,597.0 L332.7,597.0" fill="none" stroke="#8080e6" stroke-width="0.9" stroke-linejoin="round"/>
<path d="M200.5,615.9 L202.1,616.1 L203.6,615.3 L205.2,615.2 L206.7,616.0 L208.3,616.1 L209.8,615.6 L211.4,615.2 L212.9,616.0 L214.5,615.5 L216.0,616.0 L217.6,615.7 L219.2,615.9 L220.7,615.3 L222.3,615.9 L223.8,615.3 L225.4,615.5 L226.9,615.9 L228.5,615.9 L230.0,615.3 L231.6,615.3 L233.1,614.7 L234.7,613.3 L236.2,612.4 L238.0,611.4 L239.8,610.7 L241.6,611.4 L243.4,611.9 L245.2,611.4 L247.0,612.1 L248.6,612.2 L250.2,611.5 L251.8,612.3 L253.5,611.5 L255.1,611.9 L256.7,611.8 L258.3,611.8 L260.0,611.4 L261.6,611.5 L263.2,611.6 L264.8,611.4 L266.6,610.8 L268.4,608.8 L270.2,607.9 L272.0,607.5 L273.8,608.1 L275.6,611.0 L277.3,613.7 L278.9,614.3 L280.4,614.3 L281.9,614.0 L283.5,613.7 L285.0,614.0 L286.5,613.6 L288.1,613.6 L289.9,609.6 L291.6,604.9 L293.4,605.4 L295.2,605.9 L297.0,606.0 L298.8,607.0 L300.6,606.6 L302.4,607.2 L304.1,607.0 L305.9,606.6 L307.7,606.1 L309.5,606.7 L311.3,606.9 L313.1,607.8 L314.9,607.1 L316.7,607.6 L318.4,607.2 L320.2,606.5 L322.0,606.3 L323.5,605.7 L325.1,606.7 L326.6,606.4 L328.1,607.1 L329.7,607.2 L331.2,606.6 L332.7,607.0" fill="none" stroke="#333333" stroke-width="0.9" stroke-linejoin="round"/>
<rect x="200.5" y="511.4" width="134.1" height="108.0" fill="none" stroke="#555" stroke-width="0.8"/>
<line x1="200.5" y1="619.4" x2="200.5" y2="621.1999999999999" stroke="#555" stroke-width="0.6"/>
<text x="200.5" y="626.0" font-size="5.7" font-weight="bold" fill="#333" text-anchor="middle" >0</text>
<line x1="218.4" y1="619.4" x2="218.4" y2="621.1999999999999" stroke="#555" stroke-width="0.6"/>
<text x="218.4" y="626.0" font-size="5.7" font-weight="bold" fill="#333" text-anchor="middle" >5</text>
<line x1="236.2" y1="619.4" x2="236.2" y2="621.1999999999999" stroke="#555" stroke-width="0.6"/>
<text x="236.2" y="626.0" font-size="5.7" font-weight="bold" fill="#333" text-anchor="middle" >10</text>
<line x1="254.1" y1="619.4" x2="254.1" y2="621.1999999999999" stroke="#555" stroke-width="0.6"/>
<text x="254.1" y="626.0" font-size="5.7" font-weight="bold" fill="#333" text-anchor="middle" >15</text>
<line x1="272.0" y1="619.4" x2="272.0" y2="621.1999999999999" stroke="#555" stroke-width="0.6"/>
<text x="272.0" y="626.0" font-size="5.7" font-weight="bold" fill="#333" text-anchor="middle" >20</text>
<line x1="289.9" y1="619.4" x2="289.9" y2="621.1999999999999" stroke="#555" stroke-width="0.6"/>
<text x="289.9" y="626.0" font-size="5.7" font-weight="bold" fill="#333" text-anchor="middle" >25</text>
<line x1="307.7" y1="619.4" x2="307.7" y2="621.1999999999999" stroke="#555" stroke-width="0.6"/>
<text x="307.7" y="626.0" font-size="5.7" font-weight="bold" fill="#333" text-anchor="middle" >30</text>
<line x1="325.6" y1="619.4" x2="325.6" y2="621.1999999999999" stroke="#555" stroke-width="0.6"/>
<text x="325.6" y="626.0" font-size="5.7" font-weight="bold" fill="#333" text-anchor="middle" >35</text>
<text x="270.6" y="632.7" font-size="7.1" font-weight="bold" fill="#333" text-anchor="middle" >Distance (µm)</text>
<text x="0.0" y="0.0" font-size="7.2" font-weight="bold" fill="#333" text-anchor="middle" transform="translate(196.3,566.9) rotate(-90)">Intensity (a.u.)</text>
<text x="242.5" y="521.5" font-size="8.5" font-weight="bold" fill="#222" text-anchor="start" >VSR-0.05&#160;&#160;&#160;100h</text>
<text x="201.4" y="523.7" font-size="8.0" font-weight="bold" fill="#333" text-anchor="start" >C</text>
<text x="201.4" y="555.9" font-size="8.0" font-weight="bold" fill="#333" text-anchor="start" >O</text>
<text x="201.4" y="581.8" font-size="8.0" font-weight="bold" fill="#333" text-anchor="start" >Mg</text>
<text x="201.4" y="590.9" font-size="8.0" font-weight="bold" fill="#333" text-anchor="start" >Ru</text>
<text x="201.4" y="601.5" font-size="8.0" font-weight="bold" fill="#333" text-anchor="start" >Sn</text>
<text x="203.5" y="614.9" font-size="8.0" font-weight="bold" fill="#333" text-anchor="start" >V</text>
<text x="329.5" y="615.0" font-size="7.3" font-weight="bold" fill="#222" text-anchor="end" >matrix</text>
<rect x="347.7" y="511.4" width="134.1" height="108.0" fill="#fff"/>
<rect x="347.7" y="511.4" width="35.7" height="108.0" fill="#fcf2f3"/>
<rect x="383.4" y="511.4" width="32.2" height="108.0" fill="#ebf9fc"/>
<line x1="383.4" y1="511.4" x2="383.4" y2="619.4" stroke="#c8c8d0" stroke-width="0.5"/>
<line x1="415.6" y1="511.4" x2="415.6" y2="619.4" stroke="#c8c8d0" stroke-width="0.5"/>
<path d="M347.7,523.2 L348.8,519.5 L349.8,515.2 L351.5,516.0 L353.2,517.5 L354.8,517.8 L356.4,518.8 L357.9,519.9 L359.4,522.5 L361.0,524.5 L362.5,526.9 L364.0,528.7 L365.6,528.8 L367.4,528.6 L369.1,528.0 L370.9,527.2 L372.7,526.7 L374.5,527.2 L376.3,528.3 L378.1,529.8 L379.9,530.1 L381.7,531.3 L383.4,533.3 L385.2,536.1 L387.0,536.8 L388.5,537.1 L390.1,537.3 L391.6,537.3 L393.1,537.8 L394.7,537.8 L396.2,538.0 L397.7,538.2 L399.3,537.8 L400.8,538.3 L402.3,538.1 L403.8,537.9 L405.3,538.2 L406.9,537.9 L408.4,538.3 L409.9,538.0 L411.4,537.9 L413.0,538.2 L414.5,538.0 L416.0,537.8 L417.5,538.1 L419.0,537.7 L420.6,538.2 L422.1,537.9 L423.6,538.1 L425.1,538.3 L426.7,538.1 L428.2,538.1 L429.7,537.9 L431.2,537.7 L432.7,537.7 L434.3,537.8 L435.8,538.1 L437.3,538.0 L438.8,538.0 L440.4,538.2 L441.9,537.8 L443.4,537.8 L444.9,538.1 L446.4,537.7 L448.0,537.7 L449.5,537.9 L451.0,537.8 L452.5,537.9 L454.1,537.8 L455.6,538.1 L457.1,538.1 L458.6,537.8 L460.1,538.1 L461.7,538.0 L463.2,537.8 L464.7,538.3 L466.2,537.8 L467.8,537.8 L469.3,537.8 L470.8,538.1 L472.3,538.2 L473.8,538.2 L475.4,537.9 L476.9,537.9 L478.4,537.7 L479.9,538.0" fill="none" stroke="#e88080" stroke-width="0.9" stroke-linejoin="round"/>
<path d="M347.7,543.8 L349.2,543.7 L350.8,543.6 L352.3,543.8 L353.9,543.7 L355.4,543.9 L357.0,543.8 L358.5,543.6 L360.1,543.9 L361.6,543.5 L363.2,543.7 L364.7,543.7 L366.3,543.6 L367.8,543.5 L369.4,543.8 L370.9,543.5 L372.5,543.7 L374.0,543.9 L375.6,543.6 L377.1,543.6 L378.7,543.7 L380.2,543.7 L381.8,543.8 L383.3,543.8 L384.9,543.6 L386.4,543.6 L388.0,543.6 L389.5,543.5 L391.1,543.9 L392.6,543.8 L394.2,543.8 L395.9,543.0 L397.7,542.3 L399.5,541.2 L401.3,540.6 L402.8,540.7 L404.4,540.6 L405.9,540.6 L407.4,540.6 L409.0,540.7 L410.5,540.6 L412.0,540.7 L413.8,541.2 L415.6,542.0 L417.4,542.8 L419.2,543.1 L420.7,542.9 L422.2,543.0 L423.7,543.0 L425.3,543.1 L426.8,543.0 L428.3,542.9 L429.8,543.1 L431.3,543.2 L432.9,542.9 L434.4,543.2 L435.9,542.9 L437.4,543.0 L438.9,543.0 L440.4,543.2 L442.0,543.3 L443.5,543.3 L445.0,543.1 L446.5,543.4 L448.0,543.2 L449.6,543.1 L451.1,543.4 L452.6,543.3 L454.1,543.4 L455.6,543.4 L457.2,543.5 L458.7,543.4 L460.2,543.5 L461.7,543.5 L463.2,543.6 L464.7,543.4 L466.3,543.5 L467.8,543.5 L469.3,543.4 L470.8,543.4 L472.3,543.5 L473.9,543.3 L475.4,543.7 L476.9,543.4 L478.4,543.3 L479.9,543.5" fill="none" stroke="#c98850" stroke-width="0.9" stroke-linejoin="round"/>
<path d="M347.7,555.0 L349.3,555.5 L350.8,555.1 L352.4,555.0 L353.9,554.9 L355.5,554.9 L357.0,555.3 L358.6,555.3 L360.1,555.3 L361.7,555.3 L363.2,554.9 L364.8,555.3 L366.3,555.1 L367.9,555.4 L369.5,555.4 L371.0,555.4 L372.6,554.9 L374.1,555.4 L375.7,555.4 L377.2,555.5 L378.8,555.0 L380.3,555.0 L381.9,555.0 L383.4,554.9 L385.2,554.0 L387.0,550.6 L388.8,547.2 L390.6,545.9 L392.4,546.4 L394.2,547.3 L395.9,547.8 L397.7,549.3 L399.5,552.7 L401.3,553.8 L403.1,553.3 L404.9,552.0 L406.7,550.3 L408.5,549.9 L410.2,549.9 L412.0,550.1 L413.8,552.5 L415.6,555.1 L417.1,555.5 L418.7,555.2 L420.2,555.4 L421.7,555.3 L423.3,554.9 L424.8,555.1 L426.3,555.2 L427.9,555.4 L429.4,555.1 L430.9,555.3 L432.5,555.2 L434.0,555.0 L435.5,555.4 L437.0,555.0 L438.6,555.4 L440.1,555.0 L441.6,554.9 L443.2,555.0 L444.7,555.4 L446.2,555.5 L447.8,554.9 L449.3,555.2 L450.8,555.2 L452.4,555.4 L453.9,555.0 L455.4,555.2 L457.0,555.1 L458.5,555.4 L460.0,555.1 L461.6,555.5 L463.1,555.1 L464.6,555.0 L466.2,555.3 L467.7,555.2 L469.2,555.0 L470.7,555.3 L472.3,554.9 L473.8,555.4 L475.3,555.3 L476.9,555.4 L478.4,555.3 L479.9,555.2" fill="none" stroke="#f2b080" stroke-width="0.9" stroke-linejoin="round"/>
<path d="M347.7,579.9 L349.2,580.0 L350.7,579.9 L352.2,580.2 L353.8,579.8 L355.3,580.2 L356.8,579.8 L358.3,579.9 L359.8,579.9 L361.3,580.2 L362.9,580.0 L364.4,579.9 L365.9,580.2 L367.4,579.9 L368.9,580.0 L370.4,580.0 L372.0,580.1 L373.5,580.1 L375.0,580.1 L376.5,579.9 L378.0,579.9 L379.5,579.8 L381.1,580.2 L382.6,580.1 L384.1,580.1 L385.6,579.8 L387.1,580.0 L388.6,580.1 L390.2,580.0 L391.7,579.8 L393.2,580.0 L394.7,580.2 L396.2,579.9 L397.7,579.8 L399.5,575.4 L401.3,566.6 L403.1,562.2 L404.0,560.1 L404.9,558.3 L406.3,560.1 L407.7,561.9 L409.9,571.0 L412.0,579.8 L413.5,579.9 L415.1,579.8 L416.6,580.2 L418.1,580.1 L419.6,579.8 L421.1,580.2 L422.6,579.8 L424.1,579.9 L425.6,580.2 L427.1,580.1 L428.6,580.1 L430.1,580.0 L431.6,579.8 L433.2,580.1 L434.7,579.8 L436.2,579.9 L437.7,579.9 L439.2,579.8 L440.7,579.9 L442.2,580.1 L443.7,580.1 L445.2,580.0 L446.7,580.1 L448.2,580.0 L449.8,579.8 L451.3,580.1 L452.8,580.0 L454.3,580.1 L455.8,580.2 L457.3,580.0 L458.8,580.0 L460.3,580.1 L461.8,580.0 L463.3,579.9 L464.8,580.1 L466.4,580.2 L467.9,580.1 L469.4,580.1 L470.9,580.2 L472.4,580.1 L473.9,580.1 L475.4,580.0 L476.9,579.9 L478.4,580.1 L479.9,580.0" fill="none" stroke="#3aa060" stroke-width="0.9" stroke-linejoin="round"/>
<path d="M347.7,588.4 L349.3,588.6 L350.8,588.8 L352.4,588.7 L353.9,588.7 L355.5,588.5 L357.0,588.6 L358.6,588.6 L360.1,588.7 L361.7,588.5 L363.2,588.7 L364.8,588.9 L366.3,588.4 L367.9,588.7 L369.5,588.8 L371.0,588.5 L372.6,588.6 L374.1,588.9 L375.7,588.3 L377.2,588.6 L378.8,588.4 L380.3,588.8 L381.9,588.9 L383.4,588.6 L385.2,585.8 L387.0,583.5 L388.8,584.0 L390.6,585.4 L392.4,586.5 L394.2,587.1 L395.7,587.0 L397.2,586.4 L398.8,585.8 L400.3,585.4 L401.8,584.4 L403.4,584.3 L404.9,583.9 L406.7,584.7 L408.5,585.8 L410.2,587.7 L412.0,587.9 L413.5,587.7 L415.1,587.9 L416.6,587.9 L418.1,587.7 L419.6,588.0 L421.1,588.0 L422.6,588.1 L424.1,587.9 L425.6,587.9 L427.1,587.8 L428.6,588.1 L430.1,588.3 L431.6,588.0 L433.2,587.8 L434.7,588.2 L436.2,587.9 L437.7,587.8 L439.2,587.8 L440.7,588.2 L442.2,588.2 L443.7,588.1 L445.2,588.0 L446.7,588.0 L448.2,587.8 L449.8,588.3 L451.3,587.9 L452.8,588.1 L454.3,588.2 L455.8,588.2 L457.3,588.0 L458.8,587.9 L460.3,588.0 L461.8,587.8 L463.3,588.2 L464.8,587.9 L466.4,588.2 L467.9,587.9 L469.4,587.9 L470.9,587.9 L472.4,588.0 L473.9,587.8 L475.4,587.7 L476.9,588.1 L478.4,587.9 L479.9,588.0" fill="none" stroke="#60dde8" stroke-width="0.9" stroke-linejoin="round"/>
<path d="M347.7,597.4 L349.2,597.4 L350.7,597.6 L352.2,597.5 L353.8,597.7 L355.3,597.7 L356.8,597.5 L358.3,597.9 L359.8,597.9 L361.3,597.2 L362.9,597.9 L364.4,597.9 L365.9,597.8 L367.4,597.3 L368.9,597.9 L370.4,597.7 L372.0,597.2 L373.5,597.2 L375.0,598.0 L376.5,597.7 L378.0,597.4 L379.5,597.3 L381.1,597.3 L382.6,597.4 L384.1,597.8 L385.6,597.5 L387.1,597.3 L388.6,597.9 L390.2,597.8 L391.7,597.3 L393.2,597.9 L394.7,597.7 L396.2,597.8 L397.7,597.7 L399.5,597.5 L401.3,596.5 L403.1,595.7 L404.9,594.8 L406.7,595.4 L408.5,595.8 L410.2,596.5 L412.0,596.5 L413.8,596.2 L415.6,594.5 L417.4,592.8 L419.2,592.2 L420.7,592.1 L422.2,592.4 L423.8,592.2 L425.3,592.6 L426.8,592.4 L428.4,592.8 L429.9,592.9 L431.4,593.1 L433.0,593.5 L434.5,592.9 L436.0,593.7 L437.6,593.4 L439.1,593.5 L440.6,593.6 L442.2,593.7 L443.8,593.3 L445.4,593.2 L447.0,593.5 L448.6,592.6 L450.2,592.9 L451.7,592.7 L453.3,592.2 L454.9,592.6 L456.5,592.7 L458.1,593.0 L459.7,592.7 L461.3,593.5 L462.9,593.4 L464.5,593.6 L466.0,594.1 L467.6,593.6 L469.2,594.2 L470.7,594.0 L472.3,593.6 L473.8,593.7 L475.3,592.9 L476.9,592.7 L478.4,592.5 L479.9,592.4" fill="none" stroke="#8080e6" stroke-width="0.9" stroke-linejoin="round"/>
<path d="M347.7,615.9 L349.3,615.3 L350.8,615.5 L352.4,615.5 L353.9,615.7 L355.5,615.9 L357.0,615.4 L358.6,615.9 L360.1,615.5 L361.7,615.6 L363.2,615.4 L364.8,615.6 L366.3,616.1 L367.9,615.8 L369.5,615.9 L371.0,615.4 L372.6,615.4 L374.1,615.4 L375.7,615.7 L377.2,615.7 L378.8,615.9 L380.3,615.1 L381.9,615.8 L383.4,616.0 L384.3,614.1 L385.2,612.0 L387.0,612.8 L388.8,613.5 L390.6,614.2 L392.1,614.8 L393.7,614.3 L395.2,613.9 L396.7,613.6 L398.2,613.4 L399.8,612.8 L401.3,612.7 L403.1,613.0 L404.9,613.7 L406.7,614.3 L408.5,614.7 L410.2,613.0 L412.0,612.2 L413.8,606.7 L415.6,601.7 L417.1,601.1 L418.7,601.4 L420.2,601.6 L421.7,602.7 L423.3,603.1 L424.8,603.1 L426.3,602.9 L428.1,603.2 L429.9,602.8 L431.7,602.2 L433.5,601.8 L435.3,602.2 L437.0,603.2 L438.8,604.0 L440.6,604.4 L442.4,604.4 L444.2,604.2 L446.0,602.8 L447.8,603.1 L449.6,602.9 L451.3,603.9 L453.1,605.4 L454.9,605.6 L456.5,605.8 L458.0,605.0 L459.5,604.0 L461.0,603.9 L462.6,603.6 L464.1,603.6 L465.6,603.5 L467.4,603.1 L469.2,603.4 L471.0,603.5 L472.8,604.1 L474.6,603.2 L476.4,601.9 L478.2,600.5 L479.9,600.5" fill="none" stroke="#333333" stroke-width="0.9" stroke-linejoin="round"/>
<rect x="347.7" y="511.4" width="134.1" height="108.0" fill="none" stroke="#555" stroke-width="0.8"/>
<line x1="347.7" y1="619.4" x2="347.7" y2="621.1999999999999" stroke="#555" stroke-width="0.6"/>
<text x="347.7" y="626.0" font-size="5.7" font-weight="bold" fill="#333" text-anchor="middle" >0</text>
<line x1="365.6" y1="619.4" x2="365.6" y2="621.1999999999999" stroke="#555" stroke-width="0.6"/>
<text x="365.6" y="626.0" font-size="5.7" font-weight="bold" fill="#333" text-anchor="middle" >5</text>
<line x1="383.4" y1="619.4" x2="383.4" y2="621.1999999999999" stroke="#555" stroke-width="0.6"/>
<text x="383.4" y="626.0" font-size="5.7" font-weight="bold" fill="#333" text-anchor="middle" >10</text>
<line x1="401.3" y1="619.4" x2="401.3" y2="621.1999999999999" stroke="#555" stroke-width="0.6"/>
<text x="401.3" y="626.0" font-size="5.7" font-weight="bold" fill="#333" text-anchor="middle" >15</text>
<line x1="419.2" y1="619.4" x2="419.2" y2="621.1999999999999" stroke="#555" stroke-width="0.6"/>
<text x="419.2" y="626.0" font-size="5.7" font-weight="bold" fill="#333" text-anchor="middle" >20</text>
<line x1="437.0" y1="619.4" x2="437.0" y2="621.1999999999999" stroke="#555" stroke-width="0.6"/>
<text x="437.0" y="626.0" font-size="5.7" font-weight="bold" fill="#333" text-anchor="middle" >25</text>
<line x1="454.9" y1="619.4" x2="454.9" y2="621.1999999999999" stroke="#555" stroke-width="0.6"/>
<text x="454.9" y="626.0" font-size="5.7" font-weight="bold" fill="#333" text-anchor="middle" >30</text>
<line x1="472.8" y1="619.4" x2="472.8" y2="621.1999999999999" stroke="#555" stroke-width="0.6"/>
<text x="472.8" y="626.0" font-size="5.7" font-weight="bold" fill="#333" text-anchor="middle" >35</text>
<text x="413.8" y="632.7" font-size="7.1" font-weight="bold" fill="#333" text-anchor="middle" >Distance (µm)</text>
<text x="0.0" y="0.0" font-size="7.2" font-weight="bold" fill="#333" text-anchor="middle" transform="translate(343.5,566.9) rotate(-90)">Intensity (a.u.)</text>
<text x="384.0" y="520.2" font-size="8.5" font-weight="bold" fill="#222" text-anchor="start" >VSR-0.1&#160;&#160;&#160;100h</text>
<text x="353.4" y="520.0" font-size="8.0" font-weight="bold" fill="#333" text-anchor="start" >C</text>
<text x="352.5" y="542.4" font-size="8.0" font-weight="bold" fill="#333" text-anchor="start" >O</text>
<text x="352.5" y="555.2" font-size="8.0" font-weight="bold" fill="#333" text-anchor="start" >Cl</text>
<text x="352.5" y="577.6" font-size="8.0" font-weight="bold" fill="#333" text-anchor="start" >Mg</text>
<text x="352.5" y="587.3" font-size="8.0" font-weight="bold" fill="#333" text-anchor="start" >Ru</text>
<text x="352.5" y="598.1" font-size="8.0" font-weight="bold" fill="#333" text-anchor="start" >Sn</text>
<text x="353.4" y="613.5" font-size="8.0" font-weight="bold" fill="#333" text-anchor="start" >V</text>
<text x="479.5" y="614.5" font-size="7.3" font-weight="bold" fill="#222" text-anchor="end" >matrix</text>
<rect x="496.2" y="511.4" width="134.0" height="108.0" fill="#fff"/>
<rect x="496.2" y="511.4" width="46.5" height="108.0" fill="#fcf2f3"/>
<rect x="542.7" y="511.4" width="35.7" height="108.0" fill="#ebf9fc"/>
<line x1="542.7" y1="511.4" x2="542.7" y2="619.4" stroke="#c8c8d0" stroke-width="0.5"/>
<line x1="578.4" y1="511.4" x2="578.4" y2="619.4" stroke="#c8c8d0" stroke-width="0.5"/>
<path d="M496.2,539.5 L497.7,539.2 L499.3,536.8 L500.8,534.3 L502.3,530.5 L503.9,528.0 L505.4,525.5 L506.9,524.7 L508.7,524.3 L510.5,522.0 L512.3,519.7 L514.1,517.3 L515.9,516.4 L517.6,517.8 L519.4,520.0 L521.2,523.0 L523.0,525.2 L524.8,525.8 L526.6,527.6 L528.4,530.6 L530.2,532.0 L531.9,532.1 L533.7,531.3 L535.5,531.2 L537.3,530.6 L539.1,530.0 L540.9,530.8 L542.7,533.2 L544.4,535.4 L546.2,535.7 L548.0,536.5 L549.8,538.1 L551.6,539.2 L553.4,540.2 L555.0,540.0 L556.6,539.9 L558.1,540.2 L559.7,540.5 L561.3,540.6 L562.9,540.9 L564.5,540.7 L566.1,541.1 L567.7,540.9 L569.2,541.1 L570.7,541.1 L572.2,541.0 L573.8,540.9 L575.3,541.2 L576.8,541.3 L578.3,541.2 L579.8,541.0 L581.4,540.9 L582.9,540.7 L584.4,541.3 L585.9,541.1 L587.4,541.2 L588.9,540.9 L590.5,541.1 L592.0,541.3 L593.5,541.2 L595.0,541.1 L596.5,540.9 L598.1,541.0 L599.6,541.2 L601.1,540.9 L602.6,541.1 L604.1,541.1 L605.7,541.2 L607.2,541.2 L608.7,540.9 L610.2,540.7 L611.7,540.9 L613.2,541.0 L614.8,541.1 L616.3,541.2 L617.8,541.2 L619.3,540.7 L620.8,541.2 L622.4,541.2 L623.9,541.2 L625.4,541.0 L626.9,540.9 L628.4,541.0" fill="none" stroke="#e88080" stroke-width="0.9" stroke-linejoin="round"/>
<path d="M496.2,548.9 L497.7,548.9 L499.2,548.9 L500.8,549.0 L502.3,548.7 L503.8,548.6 L505.3,548.8 L506.8,548.9 L508.4,548.7 L509.9,548.9 L511.4,548.9 L512.9,548.6 L514.4,548.8 L515.9,548.8 L517.5,548.7 L519.0,548.6 L520.5,548.6 L522.0,548.8 L523.5,548.8 L525.1,548.6 L526.6,548.5 L528.1,548.8 L529.6,548.7 L531.1,548.5 L532.7,548.6 L534.2,548.8 L535.7,548.7 L537.2,548.6 L538.7,548.6 L540.2,548.6 L541.8,548.4 L543.3,548.4 L544.8,548.4 L546.3,548.6 L547.8,548.5 L549.4,548.5 L550.9,548.5 L552.4,548.5 L553.9,548.4 L555.4,548.3 L557.0,548.7 L558.5,548.4 L560.0,548.1 L561.6,548.0 L563.1,547.8 L564.6,547.3 L566.1,547.3 L567.7,547.1 L569.2,547.3 L570.7,547.3 L572.3,547.6 L573.8,548.4 L575.3,548.6 L576.9,548.7 L578.4,548.8 L579.9,548.7 L581.4,548.9 L583.0,548.8 L584.5,549.0 L586.0,548.9 L587.5,548.9 L589.0,549.0 L590.5,548.7 L592.0,548.6 L593.6,548.7 L595.1,548.7 L596.6,548.6 L598.1,548.6 L599.6,548.8 L601.1,548.9 L602.7,548.8 L604.2,549.0 L605.7,549.0 L607.2,548.6 L608.7,548.8 L610.2,548.8 L611.8,548.6 L613.3,549.0 L614.8,548.7 L616.3,548.8 L617.8,548.9 L619.3,549.0 L620.9,548.9 L622.4,548.8 L623.9,548.8 L625.4,548.7 L626.9,549.0 L628.4,548.8" fill="none" stroke="#c98850" stroke-width="0.9" stroke-linejoin="round"/>
<path d="M496.2,569.6 L497.7,569.1 L499.3,569.0 L500.8,569.1 L502.4,569.2 L503.9,569.5 L505.5,569.5 L507.0,569.5 L508.6,569.0 L510.1,569.4 L511.7,569.4 L513.2,569.3 L514.8,569.5 L516.3,568.9 L517.9,569.0 L519.4,569.3 L521.0,569.4 L522.5,569.2 L524.1,569.0 L525.6,569.1 L527.2,569.2 L528.7,568.8 L530.3,568.9 L531.8,568.9 L533.4,568.8 L534.9,569.0 L536.5,568.8 L538.0,568.9 L539.6,568.8 L541.1,569.1 L542.7,568.7 L544.4,568.3 L546.2,565.8 L548.0,563.6 L549.8,563.3 L551.6,561.7 L553.4,559.3 L555.2,556.4 L557.0,555.2 L558.7,554.4 L560.5,553.8 L562.3,552.7 L564.1,552.9 L565.9,553.0 L567.7,553.4 L569.5,553.8 L571.3,553.9 L573.0,554.7 L574.8,555.5 L576.6,556.1 L577.5,560.8 L578.4,565.8 L580.2,567.0 L582.0,568.6 L583.8,568.1 L585.5,566.8 L587.3,566.2 L589.1,565.4 L590.9,565.6 L592.7,565.8 L594.5,566.2 L596.3,566.7 L598.1,566.6 L599.8,567.1 L601.6,567.8 L603.4,567.9 L605.0,568.2 L606.5,567.8 L608.1,568.3 L609.7,567.7 L611.2,568.2 L612.8,568.1 L614.4,567.8 L615.9,568.0 L617.5,567.9 L619.1,567.9 L620.6,567.8 L622.2,567.9 L623.7,568.3 L625.3,568.3 L626.9,568.3 L628.4,568.0" fill="none" stroke="#f2b080" stroke-width="0.9" stroke-linejoin="round"/>
<path d="M496.2,576.3 L497.7,576.4 L499.3,576.7 L500.8,576.2 L502.4,576.6 L503.9,576.4 L505.5,576.8 L507.0,576.2 L508.6,576.7 L510.1,576.4 L511.7,576.3 L513.2,576.2 L514.8,576.7 L516.3,576.5 L517.9,576.3 L519.4,576.5 L521.0,576.7 L522.5,576.3 L524.1,576.5 L525.6,576.3 L527.2,576.3 L528.7,576.7 L530.3,576.6 L531.8,576.3 L533.4,576.2 L534.9,576.3 L536.5,576.6 L538.0,576.5 L539.6,576.4 L541.1,576.3 L542.7,576.6 L544.2,576.4 L545.7,575.7 L547.3,574.4 L548.8,573.0 L550.3,571.8 L551.9,571.4 L553.4,570.9 L554.9,571.0 L556.4,570.2 L558.0,570.0 L559.5,569.1 L561.0,568.8 L562.6,568.4 L564.1,568.0 L565.9,567.9 L567.7,568.7 L569.5,568.8 L571.3,569.2 L573.0,569.1 L574.8,569.6 L576.6,570.2 L578.4,572.7 L580.2,575.3 L582.0,574.9 L583.8,574.1 L585.5,573.2 L587.1,573.5 L588.6,573.4 L590.1,573.3 L591.7,573.0 L593.2,573.2 L594.7,573.2 L596.3,573.2 L598.1,573.0 L599.8,573.4 L601.6,573.4 L603.4,573.7 L605.0,573.2 L606.5,573.7 L608.1,573.7 L609.7,573.4 L611.2,573.4 L612.8,573.4 L614.4,573.3 L615.9,573.0 L617.5,573.5 L619.1,573.0 L620.6,572.9 L622.2,572.8 L623.7,572.9 L625.3,573.2 L626.9,572.7 L628.4,573.0" fill="none" stroke="#60dde8" stroke-width="0.9" stroke-linejoin="round"/>
<path d="M496.2,589.7 L497.7,590.0 L499.2,589.8 L500.7,589.7 L502.3,589.9 L503.8,589.9 L505.3,589.9 L506.8,589.9 L508.3,589.7 L509.8,590.0 L511.4,589.9 L512.9,589.6 L514.4,589.6 L515.9,589.8 L517.4,589.7 L518.9,589.6 L520.5,589.6 L522.0,589.7 L523.5,589.5 L525.0,589.7 L526.5,589.8 L528.0,589.5 L529.6,589.6 L531.1,589.7 L532.6,589.4 L534.1,589.7 L535.6,589.7 L537.1,589.5 L538.7,589.5 L540.2,589.7 L541.7,589.5 L543.2,589.5 L544.7,589.7 L546.2,589.6 L547.8,589.3 L549.4,588.9 L551.0,588.4 L552.6,587.8 L554.2,587.3 L555.8,586.6 L557.4,586.1 L558.9,585.7 L560.5,585.6 L562.3,585.2 L564.1,585.1 L565.9,585.0 L567.7,584.9 L569.5,584.8 L571.3,585.3 L573.0,585.9 L574.8,585.9 L576.6,586.8 L578.4,588.1 L580.2,589.0 L581.7,589.0 L583.2,588.8 L584.7,588.9 L586.2,589.2 L587.7,589.1 L589.2,589.2 L590.7,589.1 L592.3,589.2 L593.8,589.2 L595.3,589.3 L596.8,588.9 L598.3,589.2 L599.8,589.1 L601.3,589.3 L602.8,589.1 L604.3,589.3 L605.8,589.4 L607.3,589.3 L608.8,589.2 L610.3,589.4 L611.9,589.3 L613.4,589.6 L614.9,589.3 L616.4,589.3 L617.9,589.5 L619.4,589.3 L620.9,589.5 L622.4,589.7 L623.9,589.5 L625.4,589.4 L626.9,589.5 L628.4,589.5" fill="none" stroke="#70a8e8" stroke-width="0.9" stroke-linejoin="round"/>
<path d="M496.2,598.9 L497.7,598.7 L499.2,598.7 L500.8,598.7 L502.3,598.8 L503.8,598.8 L505.3,598.8 L506.9,598.7 L508.4,598.7 L509.9,598.9 L511.4,599.1 L512.9,599.0 L514.5,598.9 L516.0,599.0 L517.5,598.7 L519.0,599.0 L520.6,598.9 L522.1,598.9 L523.6,599.0 L525.1,598.9 L526.6,598.8 L528.2,598.7 L529.7,598.7 L531.2,598.9 L532.7,598.8 L534.3,599.0 L535.8,598.6 L537.3,598.8 L538.8,599.1 L540.3,598.7 L541.9,598.9 L543.4,598.9 L544.9,598.8 L546.4,599.2 L548.0,598.8 L549.5,599.1 L551.0,598.7 L552.5,598.6 L554.0,599.1 L555.6,598.9 L557.1,598.6 L558.6,598.8 L560.1,598.9 L561.7,599.0 L563.2,598.7 L564.7,598.7 L566.2,599.2 L567.7,599.0 L569.3,598.7 L570.8,598.8 L572.3,598.8 L573.8,599.0 L575.4,599.0 L576.9,599.1 L578.4,599.1 L580.2,598.1 L582.0,596.4 L583.8,594.6 L585.5,593.9 L587.3,594.5 L589.1,596.3 L590.9,597.1 L592.7,596.4 L594.5,594.2 L596.3,593.7 L597.8,593.2 L599.3,593.6 L600.9,593.5 L602.4,593.4 L603.9,593.6 L605.5,593.4 L607.0,593.2 L608.5,593.4 L610.1,593.3 L611.6,593.1 L613.1,592.9 L614.7,592.9 L616.2,592.8 L617.7,592.9 L619.2,592.6 L620.8,592.6 L622.3,592.6 L623.8,592.5 L625.4,592.4 L626.9,592.7 L628.4,592.5" fill="none" stroke="#8080e6" stroke-width="0.9" stroke-linejoin="round"/>
<path d="M496.2,617.1 L497.8,616.8 L499.3,616.7 L500.9,616.5 L502.4,616.5 L504.0,616.4 L505.5,616.7 L507.1,616.6 L508.6,616.1 L510.2,616.7 L511.7,616.1 L513.3,616.5 L514.8,616.4 L516.4,616.4 L518.0,615.7 L519.5,615.8 L521.1,616.1 L522.6,615.3 L524.2,615.3 L525.7,615.6 L527.3,615.6 L528.8,615.9 L530.4,615.7 L531.9,615.5 L533.5,615.9 L535.0,615.5 L536.6,615.4 L538.2,615.5 L539.7,615.1 L541.3,615.0 L542.8,615.0 L544.4,614.7 L545.9,615.0 L547.5,614.6 L549.0,614.4 L550.6,613.8 L552.1,613.9 L553.7,613.8 L555.2,613.7 L556.8,613.6 L558.4,613.7 L559.9,613.7 L561.5,613.2 L563.0,613.1 L564.6,613.1 L566.1,613.4 L567.7,612.9 L569.5,612.9 L571.3,612.8 L573.0,611.9 L574.8,611.7 L576.6,612.1 L578.4,610.1 L580.2,608.0 L582.0,604.4 L583.8,601.7 L585.5,602.9 L587.3,604.3 L588.2,607.9 L589.1,611.3 L590.9,608.4 L592.7,605.7 L594.5,607.8 L596.3,610.0 L598.1,610.1 L599.8,610.0 L601.6,610.2 L603.4,610.6 L605.2,608.8 L607.0,606.9 L608.8,607.6 L610.6,607.9 L612.4,607.9 L614.1,608.4 L615.9,609.1 L617.7,609.6 L619.5,610.8 L621.3,610.6 L623.1,610.1 L624.9,608.8 L626.7,606.8 L628.4,606.0" fill="none" stroke="#333333" stroke-width="0.9" stroke-linejoin="round"/>
<rect x="496.2" y="511.4" width="134.0" height="108.0" fill="none" stroke="#555" stroke-width="0.8"/>
<line x1="496.2" y1="619.4" x2="496.2" y2="621.1999999999999" stroke="#555" stroke-width="0.6"/>
<text x="496.2" y="626.0" font-size="5.7" font-weight="bold" fill="#333" text-anchor="middle" >0</text>
<line x1="514.1" y1="619.4" x2="514.1" y2="621.1999999999999" stroke="#555" stroke-width="0.6"/>
<text x="514.1" y="626.0" font-size="5.7" font-weight="bold" fill="#333" text-anchor="middle" >5</text>
<line x1="531.9" y1="619.4" x2="531.9" y2="621.1999999999999" stroke="#555" stroke-width="0.6"/>
<text x="531.9" y="626.0" font-size="5.7" font-weight="bold" fill="#333" text-anchor="middle" >10</text>
<line x1="549.8" y1="619.4" x2="549.8" y2="621.1999999999999" stroke="#555" stroke-width="0.6"/>
<text x="549.8" y="626.0" font-size="5.7" font-weight="bold" fill="#333" text-anchor="middle" >15</text>
<line x1="567.7" y1="619.4" x2="567.7" y2="621.1999999999999" stroke="#555" stroke-width="0.6"/>
<text x="567.7" y="626.0" font-size="5.7" font-weight="bold" fill="#333" text-anchor="middle" >20</text>
<line x1="585.5" y1="619.4" x2="585.5" y2="621.1999999999999" stroke="#555" stroke-width="0.6"/>
<text x="585.5" y="626.0" font-size="5.7" font-weight="bold" fill="#333" text-anchor="middle" >25</text>
<line x1="603.4" y1="619.4" x2="603.4" y2="621.1999999999999" stroke="#555" stroke-width="0.6"/>
<text x="603.4" y="626.0" font-size="5.7" font-weight="bold" fill="#333" text-anchor="middle" >30</text>
<line x1="621.3" y1="619.4" x2="621.3" y2="621.1999999999999" stroke="#555" stroke-width="0.6"/>
<text x="621.3" y="626.0" font-size="5.7" font-weight="bold" fill="#333" text-anchor="middle" >35</text>
<text x="568.5" y="632.7" font-size="7.1" font-weight="bold" fill="#333" text-anchor="middle" >Distance (µm)</text>
<text x="0.0" y="0.0" font-size="7.2" font-weight="bold" fill="#333" text-anchor="middle" transform="translate(492.0,566.9) rotate(-90)">Intensity (a.u.)</text>
<text x="545.3" y="520.2" font-size="8.5" font-weight="bold" fill="#222" text-anchor="start" >VSR-0.2&#160;&#160;100h</text>
<text x="499.0" y="535.4" font-size="8.0" font-weight="bold" fill="#333" text-anchor="start" >C</text>
<text x="499.0" y="548.8" font-size="8.0" font-weight="bold" fill="#333" text-anchor="start" >O</text>
<text x="499.0" y="568.0" font-size="8.0" font-weight="bold" fill="#333" text-anchor="start" >Cl</text>
<text x="499.0" y="576.3" font-size="8.0" font-weight="bold" fill="#333" text-anchor="start" >Mg</text>
<text x="499.0" y="588.6" font-size="8.0" font-weight="bold" fill="#333" text-anchor="start" >Ru</text>
<text x="499.0" y="598.1" font-size="8.0" font-weight="bold" fill="#333" text-anchor="start" >Sn</text>
<text x="499.0" y="614.3" font-size="8.0" font-weight="bold" fill="#333" text-anchor="start" >V</text>
<text x="627.5" y="615.0" font-size="7.3" font-weight="bold" fill="#222" text-anchor="end" >matrix</text>
<rect x="29" y="9.8" width="601.6" height="103.6" fill="none" stroke="#3e4867" stroke-width="1.8" stroke-dasharray="6 4"/>
<rect x="29" y="120.6" width="601.6" height="166.4" fill="none" stroke="#3e4867" stroke-width="1.8" stroke-dasharray="6 4"/>
<rect x="29" y="294.2" width="601.6" height="207.0" fill="none" stroke="#3e4867" stroke-width="1.8" stroke-dasharray="6 4"/>
<rect x="29" y="506.4" width="601.6" height="133.6" fill="none" stroke="#3e4867" stroke-width="1.8" stroke-dasharray="6 4"/>
<text x="643.5" y="31.5" font-size="35" font-weight="normal" fill="#000">b</text>
<rect x="670" y="16.5" width="177" height="303.5" fill="url(#photoBg)" filter="url(#photoN)"/>
<text x="679.3" y="36.9" font-size="17.8" font-weight="bold" fill="#111" text-anchor="start" >Before</text>
<text x="755.0" y="36.9" font-size="17.8" font-weight="bold" fill="#111" text-anchor="start" >After</text>
<circle cx="807.5" cy="35.5" r="0.8" fill="#333"/>
<circle cx="707.8" cy="65.8" r="21.3" fill="url(#bd0)" stroke="#3a3e46" stroke-width="1.4"/>
<circle cx="774" cy="65.8" r="20.6" fill="url(#ad0)"/>
<circle cx="707.8" cy="139.8" r="21.3" fill="url(#bd1)" stroke="#3c3e40" stroke-width="1.4"/>
<circle cx="774" cy="139.8" r="20.6" fill="url(#ad1)"/>
<circle cx="707.8" cy="206.0" r="21.3" fill="url(#bd2)" stroke="#3a3c3e" stroke-width="1.4"/>
<circle cx="774" cy="206.0" r="20.6" fill="url(#ad2)"/>
<circle cx="707.8" cy="269.8" r="21.3" fill="url(#bd3)" stroke="#383c3e" stroke-width="1.4"/>
<circle cx="774" cy="269.8" r="20.6" fill="url(#ad3)"/>
<path d="M690,128 Q702,121 716,123 L712,156 Q698,158 689,148 Z" fill="#c2c2be" opacity="0.75"/>
<path d="M716,123 Q727,130 728,142 Q724,154 712,158 Z" fill="#8a8a87" opacity="0.8"/>
<text x="799.6" y="69.6" font-size="11.9" font-weight="bold" fill="#111" text-anchor="start" >VSR-0</text>
<text x="794.4" y="145.0" font-size="11.9" font-weight="bold" fill="#111" text-anchor="start" >VSR-0.05</text>
<text x="798.2" y="212.4" font-size="11.9" font-weight="bold" fill="#111" text-anchor="start" >VSR-0.1</text>
<text x="796.9" y="275.3" font-size="11.9" font-weight="bold" fill="#111" text-anchor="start" >VSR-0.2</text>
<text x="799.8" y="309.2" font-size="16.2" font-weight="bold" fill="#111" text-anchor="start" >2 cm</text>
<rect x="799" y="313.2" width="40" height="2.2" fill="#111"/>
<rect x="906.0" y="162.1" width="22.5" height="50.1" fill="url(#gB)"/>
<path d="M917.3,209.9 V214.6 M914.5,209.9 h5.6 M914.5,214.6 h5.6" stroke="#333" stroke-width="0.9" fill="none"/>
<text x="916.7" y="225.3" font-size="10.4" font-weight="bold" fill="#222" text-anchor="middle" >-2.83</text>
<rect x="928.5" y="162.1" width="22.5" height="59.7" fill="url(#gO)"/>
<path d="M939.8,211.8 V232.0 M937.0,211.8 h5.6 M937.0,232.0 h5.6" stroke="#333" stroke-width="0.9" fill="none"/>
<text x="936.4" y="243.5" font-size="10.4" font-weight="bold" fill="#222" text-anchor="middle" >-3.375</text>
<rect x="951.0" y="162.1" width="22.5" height="96.5" fill="url(#gR)"/>
<path d="M962.3,242.8 V275.0 M959.5,242.8 h5.6 M959.5,275.0 h5.6" stroke="#333" stroke-width="0.9" fill="none"/>
<text x="962.4" y="286.2" font-size="10.4" font-weight="bold" fill="#222" text-anchor="middle" >-5.455</text>
<rect x="990.5" y="97.4" width="22.5" height="64.7" fill="url(#gB)"/>
<path d="M1001.8,111.7 V83.6 M999.0,111.7 h5.6 M999.0,83.6 h5.6" stroke="#333" stroke-width="0.9" fill="none"/>
<text x="1001.0" y="79.8" font-size="10.4" font-weight="bold" fill="#222" text-anchor="middle" >3.655</text>
<rect x="1013.0" y="78.9" width="22.5" height="83.2" fill="url(#gO)"/>
<path d="M1024.3,91.0 V67.3 M1021.5,91.0 h5.6 M1021.5,67.3 h5.6" stroke="#333" stroke-width="0.9" fill="none"/>
<text x="1024.0" y="63.2" font-size="10.4" font-weight="bold" fill="#222" text-anchor="middle" >4.705</text>
<rect x="1035.5" y="73.4" width="22.5" height="88.7" fill="url(#gR)"/>
<path d="M1046.8,83.7 V62.9 M1044.0,83.7 h5.6 M1044.0,62.9 h5.6" stroke="#333" stroke-width="0.9" fill="none"/>
<text x="1050.0" y="54.5" font-size="10.4" font-weight="bold" fill="#222" text-anchor="middle" >5.015</text>
<rect x="1075.2" y="152.7" width="22.5" height="9.4" fill="url(#gB)"/>
<path d="M1086.5,157.7 V147.1 M1083.7,157.7 h5.6 M1083.7,147.1 h5.6" stroke="#333" stroke-width="0.9" fill="none"/>
<text x="1085.8" y="144.5" font-size="10.4" font-weight="bold" fill="#222" text-anchor="middle" >0.53</text>
<rect x="1097.8" y="147.7" width="22.5" height="14.4" fill="url(#gO)"/>
<path d="M1109.0,150.6 V144.4 M1106.2,150.6 h5.6 M1106.2,144.4 h5.6" stroke="#333" stroke-width="0.9" fill="none"/>
<text x="1110.0" y="139.2" font-size="10.4" font-weight="bold" fill="#222" text-anchor="middle" >0.815</text>
<rect x="1120.2" y="141.5" width="22.5" height="20.6" fill="url(#gR)"/>
<path d="M1131.5,142.6 V140.5 M1128.7,142.6 h5.6 M1128.7,140.5 h5.6" stroke="#333" stroke-width="0.9" fill="none"/>
<text x="1131.2" y="129.4" font-size="10.4" font-weight="bold" fill="#222" text-anchor="middle" >1.165</text>
<rect x="1159.8" y="156.3" width="22.5" height="5.8" fill="url(#gB)"/>
<path d="M1171.1,163.9 V148.8 M1168.3,163.9 h5.6 M1168.3,148.8 h5.6" stroke="#333" stroke-width="0.9" fill="none"/>
<text x="1170.0" y="145.8" font-size="10.4" font-weight="bold" fill="#222" text-anchor="middle" >0.33</text>
<rect x="1182.3" y="148.4" width="22.5" height="13.7" fill="url(#gO)"/>
<path d="M1193.6,151.5 V145.3 M1190.8,151.5 h5.6 M1190.8,145.3 h5.6" stroke="#333" stroke-width="0.9" fill="none"/>
<text x="1193.7" y="143.2" font-size="10.4" font-weight="bold" fill="#222" text-anchor="middle" >0.775</text>
<rect x="1204.8" y="147.2" width="22.5" height="14.9" fill="url(#gR)"/>
<path d="M1216.1,147.9 V146.4 M1213.3,147.9 h5.6 M1213.3,146.4 h5.6" stroke="#333" stroke-width="0.9" fill="none"/>
<text x="1216.6" y="134.7" font-size="10.4" font-weight="bold" fill="#222" text-anchor="middle" >0.845</text>
<line x1="897.7" y1="162.1" x2="1236.3" y2="162.1" stroke="#444" stroke-width="1.1"/>
<rect x="897.7" y="20.6" width="338.6" height="283.0" fill="none" stroke="#444" stroke-width="1.1"/>
<text x="890.5" y="307.9" font-size="12.3" font-weight="bold" fill="#111" text-anchor="end" >−8</text>
<line x1="897.7" y1="268.2" x2="903.2" y2="268.2" stroke="#444" stroke-width="1"/>
<text x="890.5" y="272.5" font-size="12.3" font-weight="bold" fill="#111" text-anchor="end" >−6</text>
<line x1="897.7" y1="232.9" x2="903.2" y2="232.9" stroke="#444" stroke-width="1"/>
<text x="890.5" y="237.2" font-size="12.3" font-weight="bold" fill="#111" text-anchor="end" >−4</text>
<line x1="897.7" y1="197.5" x2="903.2" y2="197.5" stroke="#444" stroke-width="1"/>
<text x="890.5" y="201.8" font-size="12.3" font-weight="bold" fill="#111" text-anchor="end" >−2</text>
<line x1="897.7" y1="162.1" x2="903.2" y2="162.1" stroke="#444" stroke-width="1"/>
<text x="890.5" y="166.4" font-size="12.3" font-weight="bold" fill="#111" text-anchor="end" >0</text>
<line x1="897.7" y1="126.7" x2="903.2" y2="126.7" stroke="#444" stroke-width="1"/>
<text x="890.5" y="131.0" font-size="12.3" font-weight="bold" fill="#111" text-anchor="end" >2</text>
<line x1="897.7" y1="91.3" x2="903.2" y2="91.3" stroke="#444" stroke-width="1"/>
<text x="890.5" y="95.6" font-size="12.3" font-weight="bold" fill="#111" text-anchor="end" >4</text>
<line x1="897.7" y1="56.0" x2="903.2" y2="56.0" stroke="#444" stroke-width="1"/>
<text x="890.5" y="60.3" font-size="12.3" font-weight="bold" fill="#111" text-anchor="end" >6</text>
<text x="890.5" y="24.9" font-size="12.3" font-weight="bold" fill="#111" text-anchor="end" >8</text>
<line x1="939.8" y1="303.6" x2="939.8" y2="298.40000000000003" stroke="#444" stroke-width="1"/>
<text x="939.8" y="320.4" font-size="12.6" font-weight="bold" fill="#111" text-anchor="middle" >VSR-0</text>
<line x1="1024.3" y1="303.6" x2="1024.3" y2="298.40000000000003" stroke="#444" stroke-width="1"/>
<text x="1024.3" y="320.4" font-size="12.6" font-weight="bold" fill="#111" text-anchor="middle" >VSR-0.05</text>
<line x1="1109.0" y1="303.6" x2="1109.0" y2="298.40000000000003" stroke="#444" stroke-width="1"/>
<text x="1109.0" y="320.4" font-size="12.6" font-weight="bold" fill="#111" text-anchor="middle" >VSR-0.1</text>
<line x1="1193.6" y1="303.6" x2="1193.6" y2="298.40000000000003" stroke="#444" stroke-width="1"/>
<text x="1193.6" y="320.4" font-size="12.6" font-weight="bold" fill="#111" text-anchor="middle" >VSR-0.2</text>
<rect x="1161.5" y="23.8" width="35.5" height="17.3" fill="url(#lB)"/>
<text x="1201.5" y="37.8" font-size="13" font-weight="bold" fill="#111" text-anchor="start" >25h</text>
<rect x="1161.5" y="43.9" width="35.5" height="17.3" fill="url(#lO)"/>
<text x="1201.5" y="57.9" font-size="13" font-weight="bold" fill="#111" text-anchor="start" >50h</text>
<rect x="1161.5" y="63.9" width="35.5" height="17.3" fill="url(#lR)"/>
<text x="1201.5" y="77.9" font-size="13" font-weight="bold" fill="#111" text-anchor="start" >100h</text>
<text x="0.0" y="0.0" font-size="16" font-weight="bold" fill="#111" text-anchor="middle" transform="translate(870,164) rotate(-90)">Weight change rate (Δm%)</text>
<text x="640" y="349.6" font-size="39" font-weight="normal" fill="#000">c</text>
<rect x="696.5" y="422.0" width="21.2" height="50.9" fill="url(#gC)"/>
<text x="707.1" y="419.8" font-size="11.6" font-weight="bold" fill="#111" text-anchor="middle" >0.96</text>
<line x1="707.1" y1="472.9" x2="707.1" y2="470.9" stroke="#555" stroke-width="0.7"/>
<text x="707.1" y="483.2" font-size="6.8" font-weight="bold" fill="#222" text-anchor="middle" >VSR-0</text>
<rect x="728.8" y="415.8" width="21.2" height="57.1" fill="url(#gC)"/>
<text x="739.4" y="413.6" font-size="11.6" font-weight="bold" fill="#111" text-anchor="middle" >1.078</text>
<line x1="739.4" y1="472.9" x2="739.4" y2="470.9" stroke="#555" stroke-width="0.7"/>
<text x="739.4" y="483.2" font-size="6.8" font-weight="bold" fill="#222" text-anchor="middle" >VSR-0.05</text>
<rect x="761.4" y="413.0" width="21.2" height="59.9" fill="url(#gC)"/>
<text x="772.0" y="410.8" font-size="11.6" font-weight="bold" fill="#111" text-anchor="middle" >1.13</text>
<line x1="772.0" y1="472.9" x2="772.0" y2="470.9" stroke="#555" stroke-width="0.7"/>
<text x="772.0" y="483.2" font-size="6.8" font-weight="bold" fill="#222" text-anchor="middle" >VSR-0.1</text>
<rect x="794.0" y="411.4" width="21.2" height="61.5" fill="url(#gC)"/>
<text x="804.6" y="409.2" font-size="11.6" font-weight="bold" fill="#111" text-anchor="middle" >1.16</text>
<line x1="804.6" y1="472.9" x2="804.6" y2="470.9" stroke="#555" stroke-width="0.7"/>
<text x="804.6" y="483.2" font-size="6.8" font-weight="bold" fill="#222" text-anchor="middle" >VSR-0.2</text>
<rect x="826.8" y="393.4" width="21.2" height="79.5" fill="url(#gC)"/>
<text x="837.4" y="391.2" font-size="11.6" font-weight="bold" fill="#111" text-anchor="middle" >1.5</text>
<line x1="837.4" y1="472.9" x2="837.4" y2="470.9" stroke="#555" stroke-width="0.7"/>
<text x="837.4" y="483.2" font-size="6.8" font-weight="bold" fill="#222" text-anchor="middle" >Ru</text>
<rect x="690.4" y="345.0" width="163.0" height="127.9" fill="none" stroke="#666" stroke-width="0.9"/>
<line x1="690.4" y1="472.9" x2="692.4" y2="472.9" stroke="#555" stroke-width="0.7"/>
<text x="688.2" y="475.6" font-size="7.6" font-weight="bold" fill="#222" text-anchor="end" >0.0</text>
<line x1="690.4" y1="446.4" x2="692.4" y2="446.4" stroke="#555" stroke-width="0.7"/>
<text x="688.2" y="449.1" font-size="7.6" font-weight="bold" fill="#222" text-anchor="end" >0.5</text>
<line x1="690.4" y1="419.9" x2="692.4" y2="419.9" stroke="#555" stroke-width="0.7"/>
<text x="688.2" y="422.6" font-size="7.6" font-weight="bold" fill="#222" text-anchor="end" >1.0</text>
<line x1="690.4" y1="393.4" x2="692.4" y2="393.4" stroke="#555" stroke-width="0.7"/>
<text x="688.2" y="396.1" font-size="7.6" font-weight="bold" fill="#222" text-anchor="end" >1.5</text>
<line x1="690.4" y1="366.9" x2="692.4" y2="366.9" stroke="#555" stroke-width="0.7"/>
<text x="688.2" y="369.6" font-size="7.6" font-weight="bold" fill="#222" text-anchor="end" >2.0</text>
<line x1="690.4" y1="345.0" x2="692.4" y2="345.0" stroke="#555" stroke-width="0.7"/>
<text x="688.2" y="347.7" font-size="7.6" font-weight="bold" fill="#222" text-anchor="end" >2.5</text>
<text x="0.0" y="0.0" font-size="7.8" font-weight="bold" fill="#222" text-anchor="middle" transform="translate(673.2,410.3) rotate(-90)">Corrosion Potential (V vs Li/Li<tspan font-size="5" dy="1.5">3</tspan><tspan dy="-1.5">Bi)</tspan></text>
<path d="M885.6,355.0 H1024.5 V468.2" stroke="#777" stroke-width="0.6" stroke-dasharray="1 1" fill="none"/>
<path d="M904.2,457.1 C905.0,454.1 907.3,445.6 908.8,439.5 C910.4,433.5 911.8,426.5 913.5,421.0 C915.1,415.5 917.1,409.8 919.0,406.6 C920.9,403.3 922.8,401.9 924.9,401.7 C927.1,401.5 929.5,403.9 932.0,405.5 C934.4,407.2 935.5,410.2 939.4,411.7 C943.2,413.2 950.0,414.0 954.9,414.4 C959.8,414.7 964.8,414.2 969.0,413.8 C973.1,413.4 975.9,412.9 979.8,411.9 C983.6,410.9 988.3,409.2 992.1,407.6 C995.8,406.0 998.9,405.0 1002.2,402.4 C1005.6,399.9 1009.5,396.5 1012.2,392.4 C1015.0,388.3 1016.9,383.9 1018.9,377.7 C1020.9,371.4 1024.0,355.3 1024.5,355.0 C1024.9,354.7 1022.9,367.9 1021.7,375.6 C1020.4,383.4 1018.6,394.2 1017.1,401.4 C1015.5,408.6 1014.3,414.5 1012.4,418.9 C1010.6,423.4 1008.1,426.4 1006.0,428.2 C1003.8,430.0 1001.6,430.3 999.8,430.0 C997.9,429.6 996.7,426.9 994.9,426.1 C993.0,425.4 990.7,425.3 988.6,425.4 C986.4,425.5 984.6,426.0 981.9,426.7 C979.2,427.3 976.0,429.2 972.3,429.4 C968.6,429.7 964.9,428.7 959.7,428.2 C954.5,427.7 947.0,427.1 941.2,426.7 C935.4,426.2 928.9,424.8 924.9,425.4 C920.9,426.0 919.5,427.6 917.2,430.3 C914.8,433.0 912.8,437.1 910.7,441.6 C908.5,446.1 905.3,454.5 904.2,457.1" fill="none" stroke="#1a1a1a" stroke-width="1.15" stroke-linejoin="round"/>
<rect x="885.6" y="345.0" width="157.0" height="123.2" fill="none" stroke="#666" stroke-width="0.9"/>
<text x="885.7" y="476.5" font-size="6.6" font-weight="bold" fill="#222" text-anchor="middle" >0.0</text>
<line x1="904.2" y1="468.2" x2="904.2" y2="466.2" stroke="#555" stroke-width="0.7"/>
<text x="904.2" y="476.5" font-size="6.6" font-weight="bold" fill="#222" text-anchor="middle" >0.2</text>
<line x1="922.7" y1="468.2" x2="922.7" y2="466.2" stroke="#555" stroke-width="0.7"/>
<text x="922.7" y="476.5" font-size="6.6" font-weight="bold" fill="#222" text-anchor="middle" >0.4</text>
<line x1="941.2" y1="468.2" x2="941.2" y2="466.2" stroke="#555" stroke-width="0.7"/>
<text x="941.2" y="476.5" font-size="6.6" font-weight="bold" fill="#222" text-anchor="middle" >0.6</text>
<line x1="959.7" y1="468.2" x2="959.7" y2="466.2" stroke="#555" stroke-width="0.7"/>
<text x="959.7" y="476.5" font-size="6.6" font-weight="bold" fill="#222" text-anchor="middle" >0.8</text>
<line x1="978.2" y1="468.2" x2="978.2" y2="466.2" stroke="#555" stroke-width="0.7"/>
<text x="978.2" y="476.5" font-size="6.6" font-weight="bold" fill="#222" text-anchor="middle" >1.0</text>
<line x1="996.7" y1="468.2" x2="996.7" y2="466.2" stroke="#555" stroke-width="0.7"/>
<text x="996.7" y="476.5" font-size="6.6" font-weight="bold" fill="#222" text-anchor="middle" >1.2</text>
<line x1="1015.2" y1="468.2" x2="1015.2" y2="466.2" stroke="#555" stroke-width="0.7"/>
<text x="1015.2" y="476.5" font-size="6.6" font-weight="bold" fill="#222" text-anchor="middle" >1.4</text>
<line x1="1033.7" y1="468.2" x2="1033.7" y2="466.2" stroke="#555" stroke-width="0.7"/>
<text x="1033.7" y="476.5" font-size="6.6" font-weight="bold" fill="#222" text-anchor="middle" >1.6</text>
<line x1="885.6" y1="458.1" x2="887.6" y2="458.1" stroke="#555" stroke-width="0.7"/>
<text x="882.6" y="460.4" font-size="6.6" font-weight="bold" fill="#222" text-anchor="end" >−0.04</text>
<line x1="885.6" y1="437.5" x2="887.6" y2="437.5" stroke="#555" stroke-width="0.7"/>
<text x="882.6" y="439.8" font-size="6.6" font-weight="bold" fill="#222" text-anchor="end" >−0.02</text>
<line x1="885.6" y1="416.9" x2="887.6" y2="416.9" stroke="#555" stroke-width="0.7"/>
<text x="882.6" y="419.2" font-size="6.6" font-weight="bold" fill="#222" text-anchor="end" >0.00</text>
<line x1="885.6" y1="396.2" x2="887.6" y2="396.2" stroke="#555" stroke-width="0.7"/>
<text x="882.6" y="398.5" font-size="6.6" font-weight="bold" fill="#222" text-anchor="end" >0.02</text>
<line x1="885.6" y1="375.6" x2="887.6" y2="375.6" stroke="#555" stroke-width="0.7"/>
<text x="882.6" y="377.9" font-size="6.6" font-weight="bold" fill="#222" text-anchor="end" >0.04</text>
<line x1="885.6" y1="355.0" x2="887.6" y2="355.0" stroke="#555" stroke-width="0.7"/>
<text x="882.6" y="357.3" font-size="6.6" font-weight="bold" fill="#222" text-anchor="end" >0.06</text>
<text x="960.1" y="485.4" font-size="8.4" font-weight="bold" fill="#222" text-anchor="middle" >Potential applied (V vs Li/Li<tspan font-size="5.5" dy="1.8">3</tspan><tspan dy="-1.8">Bi)</tspan></text>
<text x="0.0" y="0.0" font-size="8.6" font-weight="bold" fill="#222" text-anchor="middle" transform="translate(863.1,406.6) rotate(-90)">Current density (A/cm<tspan font-size="5.5" dy="-3">2</tspan><tspan dy="3">)</tspan></text>
<text x="959.9" y="358.8" font-size="15" font-weight="bold" fill="#111" text-anchor="middle" letter-spacing="-0.6">VSR-0</text>
<text x="978.6" y="373.2" font-size="12.2" font-weight="bold" fill="#d8322a" text-anchor="start" >0.06 A</text>
<line x1="1009.5" y1="362.8" x2="1018.9" y2="358.2" stroke="#333" stroke-width="0.8"/>
<path d="M1022.5,356.5 L1019.6,359.7 L1018.2,356.8 Z" fill="#333"/>
<path d="M1082.2,378.6 H1210.5 V467.0" stroke="#777" stroke-width="0.6" stroke-dasharray="1 1" fill="none"/>
<path d="M1099.5,457.6 C1100.2,454.5 1102.3,445.1 1103.8,438.8 C1105.2,432.5 1106.2,426.6 1108.0,420.0 C1109.9,413.4 1112.2,404.7 1114.9,399.3 C1117.5,394.0 1120.8,388.3 1123.9,387.9 C1127.0,387.6 1129.6,394.6 1133.4,397.4 C1137.2,400.3 1141.9,403.5 1146.5,405.0 C1151.1,406.4 1156.2,406.2 1160.9,406.2 C1165.6,406.2 1170.5,405.6 1174.7,405.0 C1178.8,404.3 1182.5,403.5 1185.8,402.4 C1189.0,401.3 1191.8,400.1 1194.3,398.4 C1196.8,396.7 1198.5,395.3 1200.8,392.4 C1203.1,389.4 1204.9,386.7 1208.0,380.5 C1211.0,374.3 1218.4,354.0 1219.1,355.1 C1219.8,356.2 1214.0,378.8 1212.3,387.1 C1210.5,395.4 1209.8,399.0 1208.3,404.9 C1206.8,410.8 1205.4,418.9 1203.3,422.4 C1201.2,426.0 1198.0,426.4 1195.8,426.1 C1193.6,425.9 1191.9,422.2 1190.0,420.9 C1188.2,419.7 1186.8,418.3 1184.7,418.6 C1182.5,418.9 1179.9,421.2 1177.2,422.8 C1174.5,424.5 1171.3,428.4 1168.3,428.6 C1165.4,428.7 1162.2,425.2 1159.3,423.8 C1156.4,422.3 1155.1,421.5 1150.7,419.9 C1146.4,418.3 1138.8,414.8 1133.4,414.4 C1128.0,413.9 1122.4,414.8 1118.3,417.4 C1114.1,420.0 1110.9,425.7 1108.5,429.9 C1106.0,434.1 1105.3,437.9 1103.8,442.6 C1102.3,447.2 1100.2,455.1 1099.5,457.6" fill="none" stroke="#1a1a1a" stroke-width="1.15" stroke-linejoin="round"/>
<rect x="1082.2" y="343.0" width="154.3" height="124.0" fill="none" stroke="#666" stroke-width="0.9"/>
<text x="1082.4" y="475.3" font-size="6.6" font-weight="bold" fill="#222" text-anchor="middle" >0.0</text>
<line x1="1099.5" y1="467.0" x2="1099.5" y2="465.0" stroke="#555" stroke-width="0.7"/>
<text x="1099.5" y="475.3" font-size="6.6" font-weight="bold" fill="#222" text-anchor="middle" >0.2</text>
<line x1="1116.6" y1="467.0" x2="1116.6" y2="465.0" stroke="#555" stroke-width="0.7"/>
<text x="1116.6" y="475.3" font-size="6.6" font-weight="bold" fill="#222" text-anchor="middle" >0.4</text>
<line x1="1133.7" y1="467.0" x2="1133.7" y2="465.0" stroke="#555" stroke-width="0.7"/>
<text x="1133.7" y="475.3" font-size="6.6" font-weight="bold" fill="#222" text-anchor="middle" >0.6</text>
<line x1="1150.7" y1="467.0" x2="1150.7" y2="465.0" stroke="#555" stroke-width="0.7"/>
<text x="1150.7" y="475.3" font-size="6.6" font-weight="bold" fill="#222" text-anchor="middle" >0.8</text>
<line x1="1167.8" y1="467.0" x2="1167.8" y2="465.0" stroke="#555" stroke-width="0.7"/>
<text x="1167.8" y="475.3" font-size="6.6" font-weight="bold" fill="#222" text-anchor="middle" >1.0</text>
<line x1="1184.9" y1="467.0" x2="1184.9" y2="465.0" stroke="#555" stroke-width="0.7"/>
<text x="1184.9" y="475.3" font-size="6.6" font-weight="bold" fill="#222" text-anchor="middle" >1.2</text>
<line x1="1202.0" y1="467.0" x2="1202.0" y2="465.0" stroke="#555" stroke-width="0.7"/>
<text x="1202.0" y="475.3" font-size="6.6" font-weight="bold" fill="#222" text-anchor="middle" >1.4</text>
<line x1="1219.1" y1="467.0" x2="1219.1" y2="465.0" stroke="#555" stroke-width="0.7"/>
<text x="1219.1" y="475.3" font-size="6.6" font-weight="bold" fill="#222" text-anchor="middle" >1.6</text>
<text x="1236.2" y="475.3" font-size="6.6" font-weight="bold" fill="#222" text-anchor="middle" >1.8</text>
<text x="1079.2" y="469.3" font-size="6.6" font-weight="bold" fill="#222" text-anchor="end" >−0.06</text>
<line x1="1082.2" y1="448.2" x2="1084.2" y2="448.2" stroke="#555" stroke-width="0.7"/>
<text x="1079.2" y="450.5" font-size="6.6" font-weight="bold" fill="#222" text-anchor="end" >−0.04</text>
<line x1="1082.2" y1="429.4" x2="1084.2" y2="429.4" stroke="#555" stroke-width="0.7"/>
<text x="1079.2" y="431.7" font-size="6.6" font-weight="bold" fill="#222" text-anchor="end" >−0.02</text>
<line x1="1082.2" y1="410.6" x2="1084.2" y2="410.6" stroke="#555" stroke-width="0.7"/>
<text x="1079.2" y="412.9" font-size="6.6" font-weight="bold" fill="#222" text-anchor="end" >0.00</text>
<line x1="1082.2" y1="391.8" x2="1084.2" y2="391.8" stroke="#555" stroke-width="0.7"/>
<text x="1079.2" y="394.1" font-size="6.6" font-weight="bold" fill="#222" text-anchor="end" >0.02</text>
<line x1="1082.2" y1="373.0" x2="1084.2" y2="373.0" stroke="#555" stroke-width="0.7"/>
<text x="1079.2" y="375.3" font-size="6.6" font-weight="bold" fill="#222" text-anchor="end" >0.04</text>
<line x1="1082.2" y1="354.2" x2="1084.2" y2="354.2" stroke="#555" stroke-width="0.7"/>
<text x="1079.2" y="356.5" font-size="6.6" font-weight="bold" fill="#222" text-anchor="end" >0.06</text>
<text x="1155.3" y="484.2" font-size="8.4" font-weight="bold" fill="#222" text-anchor="middle" >Potential applied (V vs Li/Li<tspan font-size="5.5" dy="1.8">3</tspan><tspan dy="-1.8">Bi)</tspan></text>
<text x="0.0" y="0.0" font-size="8.6" font-weight="bold" fill="#222" text-anchor="middle" transform="translate(1059.7,405.0) rotate(-90)">Current density (A/cm<tspan font-size="5.5" dy="-3">2</tspan><tspan dy="3">)</tspan></text>
<text x="1160.0" y="357.2" font-size="15" font-weight="bold" fill="#111" text-anchor="middle" letter-spacing="-0.6">VSR-0.05</text>
<text x="1155.5" y="393.8" font-size="12.2" font-weight="bold" fill="#d8322a" text-anchor="start" >0.034 A</text>
<line x1="1182" y1="382.4" x2="1205.6" y2="378.3" stroke="#333" stroke-width="0.8"/>
<path d="M1209.5,377.6 L1205.8,379.9 L1205.3,376.7 Z" fill="#333"/>
<path d="M701.5,531.3 H828.9 V620.2" stroke="#777" stroke-width="0.6" stroke-dasharray="1 1" fill="none"/>
<path d="M718.3,611.2 C719.1,608.6 721.7,600.0 722.9,595.7 C724.1,591.4 723.5,592.2 725.4,585.5 C727.3,578.8 730.9,563.1 734.2,555.4 C737.6,547.7 742.0,541.3 745.5,539.5 C749.1,537.7 751.4,542.5 755.5,544.8 C759.7,547.0 766.2,551.2 770.6,552.9 C775.0,554.7 776.8,555.8 781.9,555.4 C786.9,555.0 794.7,552.3 800.8,550.4 C806.9,548.5 814.1,546.4 818.3,544.1 C822.5,541.8 823.8,539.7 825.9,536.5 C828.0,533.4 829.0,530.1 830.9,525.2 C832.8,520.3 836.5,506.4 837.2,507.1 C837.8,507.9 836.0,522.4 834.7,529.6 C833.4,536.8 831.5,544.6 829.6,550.4 C827.7,556.2 824.9,561.7 823.4,564.2 C821.9,566.7 822.3,565.8 820.4,565.4 C818.5,565.0 815.2,562.1 811.9,561.7 C808.7,561.3 804.3,561.9 800.8,562.9 C797.3,564.0 795.7,566.8 790.7,567.9 C785.7,569.1 776.4,570.0 770.6,570.0 C764.7,569.9 760.5,567.8 755.5,567.5 C750.5,567.2 744.7,566.2 740.5,567.9 C736.3,569.7 733.3,573.4 730.4,578.0 C727.5,582.7 724.9,590.1 722.9,595.7 C720.9,601.2 719.1,608.6 718.3,611.2" fill="none" stroke="#1a1a1a" stroke-width="1.15" stroke-linejoin="round"/>
<rect x="701.5" y="497.0" width="152.9" height="123.2" fill="none" stroke="#666" stroke-width="0.9"/>
<text x="701.5" y="628.5" font-size="6.6" font-weight="bold" fill="#222" text-anchor="middle" >0.0</text>
<line x1="718.5" y1="620.2" x2="718.5" y2="618.2" stroke="#555" stroke-width="0.7"/>
<text x="718.5" y="628.5" font-size="6.6" font-weight="bold" fill="#222" text-anchor="middle" >0.2</text>
<line x1="735.5" y1="620.2" x2="735.5" y2="618.2" stroke="#555" stroke-width="0.7"/>
<text x="735.5" y="628.5" font-size="6.6" font-weight="bold" fill="#222" text-anchor="middle" >0.4</text>
<line x1="752.5" y1="620.2" x2="752.5" y2="618.2" stroke="#555" stroke-width="0.7"/>
<text x="752.5" y="628.5" font-size="6.6" font-weight="bold" fill="#222" text-anchor="middle" >0.6</text>
<line x1="769.5" y1="620.2" x2="769.5" y2="618.2" stroke="#555" stroke-width="0.7"/>
<text x="769.5" y="628.5" font-size="6.6" font-weight="bold" fill="#222" text-anchor="middle" >0.8</text>
<line x1="786.5" y1="620.2" x2="786.5" y2="618.2" stroke="#555" stroke-width="0.7"/>
<text x="786.5" y="628.5" font-size="6.6" font-weight="bold" fill="#222" text-anchor="middle" >1.0</text>
<line x1="803.4" y1="620.2" x2="803.4" y2="618.2" stroke="#555" stroke-width="0.7"/>
<text x="803.4" y="628.5" font-size="6.6" font-weight="bold" fill="#222" text-anchor="middle" >1.2</text>
<line x1="820.4" y1="620.2" x2="820.4" y2="618.2" stroke="#555" stroke-width="0.7"/>
<text x="820.4" y="628.5" font-size="6.6" font-weight="bold" fill="#222" text-anchor="middle" >1.4</text>
<line x1="837.4" y1="620.2" x2="837.4" y2="618.2" stroke="#555" stroke-width="0.7"/>
<text x="837.4" y="628.5" font-size="6.6" font-weight="bold" fill="#222" text-anchor="middle" >1.6</text>
<text x="854.4" y="628.5" font-size="6.6" font-weight="bold" fill="#222" text-anchor="middle" >1.8</text>
<line x1="701.5" y1="611.2" x2="703.5" y2="611.2" stroke="#555" stroke-width="0.7"/>
<text x="698.5" y="613.5" font-size="6.6" font-weight="bold" fill="#222" text-anchor="end" >−0.06</text>
<line x1="701.5" y1="593.6" x2="703.5" y2="593.6" stroke="#555" stroke-width="0.7"/>
<text x="698.5" y="595.9" font-size="6.6" font-weight="bold" fill="#222" text-anchor="end" >−0.04</text>
<line x1="701.5" y1="576.1" x2="703.5" y2="576.1" stroke="#555" stroke-width="0.7"/>
<text x="698.5" y="578.4" font-size="6.6" font-weight="bold" fill="#222" text-anchor="end" >−0.02</text>
<line x1="701.5" y1="558.5" x2="703.5" y2="558.5" stroke="#555" stroke-width="0.7"/>
<text x="698.5" y="560.8" font-size="6.6" font-weight="bold" fill="#222" text-anchor="end" >0.00</text>
<line x1="701.5" y1="541.0" x2="703.5" y2="541.0" stroke="#555" stroke-width="0.7"/>
<text x="698.5" y="543.3" font-size="6.6" font-weight="bold" fill="#222" text-anchor="end" >0.02</text>
<line x1="701.5" y1="523.4" x2="703.5" y2="523.4" stroke="#555" stroke-width="0.7"/>
<text x="698.5" y="525.7" font-size="6.6" font-weight="bold" fill="#222" text-anchor="end" >0.04</text>
<line x1="701.5" y1="505.9" x2="703.5" y2="505.9" stroke="#555" stroke-width="0.7"/>
<text x="698.5" y="508.2" font-size="6.6" font-weight="bold" fill="#222" text-anchor="end" >0.06</text>
<text x="774.0" y="637.4" font-size="8.4" font-weight="bold" fill="#222" text-anchor="middle" >Potential applied (V vs Li/Li<tspan font-size="5.5" dy="1.8">3</tspan><tspan dy="-1.8">Bi)</tspan></text>
<text x="0.0" y="0.0" font-size="8.6" font-weight="bold" fill="#222" text-anchor="middle" transform="translate(679.0,558.6) rotate(-90)">Current density (A/cm<tspan font-size="5.5" dy="-3">2</tspan><tspan dy="3">)</tspan></text>
<text x="776.9" y="512.8" font-size="15" font-weight="bold" fill="#111" text-anchor="middle" letter-spacing="-0.6">VSR-0.1</text>
<text x="764.3" y="546.6" font-size="12.2" font-weight="bold" fill="#d8322a" text-anchor="start" >0.031 A</text>
<line x1="793.2" y1="535.8" x2="819.4" y2="532.1" stroke="#333" stroke-width="0.8"/>
<path d="M823.4,531.5 L819.7,533.6 L819.2,530.5 Z" fill="#333"/>
<path d="M889.5,526.9 H1017.8 V620.2" stroke="#777" stroke-width="0.6" stroke-dasharray="1 1" fill="none"/>
<path d="M906.6,606.3 C907.2,603.7 908.7,594.1 910.4,590.4 C912.0,586.7 914.2,585.2 916.7,584.3 C919.2,583.4 921.1,585.6 925.5,585.0 C929.9,584.3 937.2,582.2 943.0,580.6 C948.9,578.9 954.4,577.5 960.6,575.0 C966.9,572.5 975.3,568.1 980.7,565.5 C986.2,562.9 989.5,561.1 993.3,559.2 C997.1,557.3 1000.4,556.4 1003.3,554.1 C1006.2,551.8 1008.4,549.5 1010.9,545.3 C1013.4,541.2 1016.0,535.4 1018.4,529.0 C1020.9,522.7 1024.8,509.0 1025.4,507.1 C1026.1,505.2 1023.6,512.5 1022.2,517.6 C1020.8,522.8 1019.2,530.3 1017.1,537.8 C1015.0,545.3 1011.9,555.3 1009.6,562.9 C1007.3,570.4 1005.4,578.9 1003.3,583.0 C1001.2,587.2 999.9,587.9 997.0,587.9 C994.0,587.9 988.8,583.8 985.7,583.0 C982.6,582.3 981.9,582.3 978.2,583.6 C974.4,584.8 969.0,588.6 963.1,590.6 C957.3,592.5 949.3,594.2 943.0,595.1 C936.8,596.1 930.5,595.2 925.5,596.2 C920.5,597.1 916.1,599.0 912.9,600.7 C909.8,602.4 907.7,605.4 906.6,606.3" fill="none" stroke="#1a1a1a" stroke-width="1.15" stroke-linejoin="round"/>
<rect x="889.5" y="497.0" width="154.0" height="123.2" fill="none" stroke="#666" stroke-width="0.9"/>
<text x="889.5" y="628.5" font-size="6.6" font-weight="bold" fill="#222" text-anchor="middle" >0.0</text>
<line x1="906.6" y1="620.2" x2="906.6" y2="618.2" stroke="#555" stroke-width="0.7"/>
<text x="906.6" y="628.5" font-size="6.6" font-weight="bold" fill="#222" text-anchor="middle" >0.2</text>
<line x1="923.7" y1="620.2" x2="923.7" y2="618.2" stroke="#555" stroke-width="0.7"/>
<text x="923.7" y="628.5" font-size="6.6" font-weight="bold" fill="#222" text-anchor="middle" >0.4</text>
<line x1="940.8" y1="620.2" x2="940.8" y2="618.2" stroke="#555" stroke-width="0.7"/>
<text x="940.8" y="628.5" font-size="6.6" font-weight="bold" fill="#222" text-anchor="middle" >0.6</text>
<line x1="957.9" y1="620.2" x2="957.9" y2="618.2" stroke="#555" stroke-width="0.7"/>
<text x="957.9" y="628.5" font-size="6.6" font-weight="bold" fill="#222" text-anchor="middle" >0.8</text>
<line x1="975.0" y1="620.2" x2="975.0" y2="618.2" stroke="#555" stroke-width="0.7"/>
<text x="975.0" y="628.5" font-size="6.6" font-weight="bold" fill="#222" text-anchor="middle" >1.0</text>
<line x1="992.1" y1="620.2" x2="992.1" y2="618.2" stroke="#555" stroke-width="0.7"/>
<text x="992.1" y="628.5" font-size="6.6" font-weight="bold" fill="#222" text-anchor="middle" >1.2</text>
<line x1="1009.2" y1="620.2" x2="1009.2" y2="618.2" stroke="#555" stroke-width="0.7"/>
<text x="1009.2" y="628.5" font-size="6.6" font-weight="bold" fill="#222" text-anchor="middle" >1.4</text>
<line x1="1026.3" y1="620.2" x2="1026.3" y2="618.2" stroke="#555" stroke-width="0.7"/>
<text x="1026.3" y="628.5" font-size="6.6" font-weight="bold" fill="#222" text-anchor="middle" >1.6</text>
<text x="1043.4" y="628.5" font-size="6.6" font-weight="bold" fill="#222" text-anchor="middle" >1.8</text>
<line x1="889.5" y1="611.1" x2="891.5" y2="611.1" stroke="#555" stroke-width="0.7"/>
<text x="886.5" y="613.4" font-size="6.6" font-weight="bold" fill="#222" text-anchor="end" >−0.02</text>
<line x1="889.5" y1="593.5" x2="891.5" y2="593.5" stroke="#555" stroke-width="0.7"/>
<text x="886.5" y="595.8" font-size="6.6" font-weight="bold" fill="#222" text-anchor="end" >−0.01</text>
<line x1="889.5" y1="576.0" x2="891.5" y2="576.0" stroke="#555" stroke-width="0.7"/>
<text x="886.5" y="578.3" font-size="6.6" font-weight="bold" fill="#222" text-anchor="end" >0.00</text>
<line x1="889.5" y1="558.5" x2="891.5" y2="558.5" stroke="#555" stroke-width="0.7"/>
<text x="886.5" y="560.8" font-size="6.6" font-weight="bold" fill="#222" text-anchor="end" >0.01</text>
<line x1="889.5" y1="541.0" x2="891.5" y2="541.0" stroke="#555" stroke-width="0.7"/>
<text x="886.5" y="543.3" font-size="6.6" font-weight="bold" fill="#222" text-anchor="end" >0.02</text>
<line x1="889.5" y1="523.4" x2="891.5" y2="523.4" stroke="#555" stroke-width="0.7"/>
<text x="886.5" y="525.7" font-size="6.6" font-weight="bold" fill="#222" text-anchor="end" >0.03</text>
<line x1="889.5" y1="505.9" x2="891.5" y2="505.9" stroke="#555" stroke-width="0.7"/>
<text x="886.5" y="508.2" font-size="6.6" font-weight="bold" fill="#222" text-anchor="end" >0.04</text>
<text x="962.5" y="637.4" font-size="8.4" font-weight="bold" fill="#222" text-anchor="middle" >Potential applied (V vs Li/Li<tspan font-size="5.5" dy="1.8">3</tspan><tspan dy="-1.8">Bi)</tspan></text>
<text x="0.0" y="0.0" font-size="8.6" font-weight="bold" fill="#222" text-anchor="middle" transform="translate(867.0,558.6) rotate(-90)">Current density (A/cm<tspan font-size="5.5" dy="-3">2</tspan><tspan dy="3">)</tspan></text>
<text x="967.4" y="512.8" font-size="15" font-weight="bold" fill="#111" text-anchor="middle" letter-spacing="-0.6">VSR-0.2</text>
<text x="962.6" y="544.6" font-size="12.2" font-weight="bold" fill="#d8322a" text-anchor="start" >0.028 A</text>
<line x1="993.3" y1="533.5" x2="1009.0" y2="529.9" stroke="#333" stroke-width="0.8"/>
<path d="M1012.9,529 L1009.4,531.5 L1008.6,528.3 Z" fill="#333"/>
<path d="M1083.5,559.5 H1174.7 V622.0" stroke="#777" stroke-width="0.6" stroke-dasharray="1 1" fill="none"/>
<path d="M1101.6,607.6 C1102.7,601.8 1106.0,582.9 1107.9,572.9 C1109.8,563.0 1111.2,556.6 1112.9,547.8 C1114.6,539.0 1116.6,526.2 1117.9,520.1 C1119.2,514.1 1120.1,511.1 1120.9,511.4 C1121.7,511.7 1122.1,516.3 1122.7,522.0 C1123.3,527.7 1123.3,540.2 1124.2,545.3 C1125.1,550.4 1125.7,551.1 1128.0,552.8 C1130.3,554.5 1134.7,554.8 1138.0,555.4 C1141.4,556.1 1145.1,556.1 1148.0,556.6 C1151.0,557.1 1150.3,558.0 1155.5,558.4 C1160.7,558.8 1170.9,558.8 1179.2,558.9 C1187.6,559.0 1199.5,558.9 1205.7,559.1 C1211.8,559.3 1212.9,560.2 1215.9,559.9 C1218.9,559.6 1223.2,557.3 1223.4,557.4 C1223.6,557.5 1224.4,560.0 1217.0,560.4 C1209.7,560.8 1189.5,560.0 1179.2,559.8 C1169.0,559.7 1164.5,559.4 1155.5,559.5 C1146.6,559.6 1132.1,560.0 1125.4,560.4 C1118.7,560.9 1118.0,561.4 1115.4,562.4 C1112.8,563.4 1111.5,564.0 1109.9,566.4 C1108.4,568.8 1107.3,572.6 1106.3,576.7 C1105.3,580.8 1104.8,585.6 1104.0,590.8 C1103.2,595.9 1102.0,604.8 1101.6,607.6" fill="none" stroke="#1a1a1a" stroke-width="1.15" stroke-linejoin="round"/>
<rect x="1083.5" y="497.0" width="160.0" height="125.0" fill="none" stroke="#666" stroke-width="0.9"/>
<text x="1083.5" y="630.3" font-size="6.6" font-weight="bold" fill="#222" text-anchor="middle" >−0.5</text>
<line x1="1106.3" y1="622.0" x2="1106.3" y2="620.0" stroke="#555" stroke-width="0.7"/>
<text x="1106.3" y="630.3" font-size="6.6" font-weight="bold" fill="#222" text-anchor="middle" >0.0</text>
<line x1="1129.1" y1="622.0" x2="1129.1" y2="620.0" stroke="#555" stroke-width="0.7"/>
<text x="1129.1" y="630.3" font-size="6.6" font-weight="bold" fill="#222" text-anchor="middle" >0.5</text>
<line x1="1151.9" y1="622.0" x2="1151.9" y2="620.0" stroke="#555" stroke-width="0.7"/>
<text x="1151.9" y="630.3" font-size="6.6" font-weight="bold" fill="#222" text-anchor="middle" >1.0</text>
<line x1="1174.7" y1="622.0" x2="1174.7" y2="620.0" stroke="#555" stroke-width="0.7"/>
<text x="1174.7" y="630.3" font-size="6.6" font-weight="bold" fill="#222" text-anchor="middle" >1.5</text>
<line x1="1197.5" y1="622.0" x2="1197.5" y2="620.0" stroke="#555" stroke-width="0.7"/>
<text x="1197.5" y="630.3" font-size="6.6" font-weight="bold" fill="#222" text-anchor="middle" >2.0</text>
<line x1="1220.2" y1="622.0" x2="1220.2" y2="620.0" stroke="#555" stroke-width="0.7"/>
<text x="1220.2" y="630.3" font-size="6.6" font-weight="bold" fill="#222" text-anchor="middle" >2.5</text>
<text x="1243.0" y="630.3" font-size="6.6" font-weight="bold" fill="#222" text-anchor="middle" >3.0</text>
<text x="1080.5" y="624.3" font-size="6.6" font-weight="bold" fill="#222" text-anchor="end" >−0.20</text>
<line x1="1083.5" y1="606.4" x2="1085.5" y2="606.4" stroke="#555" stroke-width="0.7"/>
<text x="1080.5" y="608.7" font-size="6.6" font-weight="bold" fill="#222" text-anchor="end" >−0.15</text>
<line x1="1083.5" y1="590.8" x2="1085.5" y2="590.8" stroke="#555" stroke-width="0.7"/>
<text x="1080.5" y="593.0" font-size="6.6" font-weight="bold" fill="#222" text-anchor="end" >−0.10</text>
<line x1="1083.5" y1="575.1" x2="1085.5" y2="575.1" stroke="#555" stroke-width="0.7"/>
<text x="1080.5" y="577.4" font-size="6.6" font-weight="bold" fill="#222" text-anchor="end" >−0.05</text>
<line x1="1083.5" y1="559.5" x2="1085.5" y2="559.5" stroke="#555" stroke-width="0.7"/>
<text x="1080.5" y="561.8" font-size="6.6" font-weight="bold" fill="#222" text-anchor="end" >0.00</text>
<line x1="1083.5" y1="543.9" x2="1085.5" y2="543.9" stroke="#555" stroke-width="0.7"/>
<text x="1080.5" y="546.2" font-size="6.6" font-weight="bold" fill="#222" text-anchor="end" >0.05</text>
<line x1="1083.5" y1="528.2" x2="1085.5" y2="528.2" stroke="#555" stroke-width="0.7"/>
<text x="1080.5" y="530.5" font-size="6.6" font-weight="bold" fill="#222" text-anchor="end" >0.10</text>
<line x1="1083.5" y1="512.6" x2="1085.5" y2="512.6" stroke="#555" stroke-width="0.7"/>
<text x="1080.5" y="514.9" font-size="6.6" font-weight="bold" fill="#222" text-anchor="end" >0.15</text>
<text x="1080.5" y="499.3" font-size="6.6" font-weight="bold" fill="#222" text-anchor="end" >0.20</text>
<text x="1159.5" y="639.2" font-size="8.4" font-weight="bold" fill="#222" text-anchor="middle" >Potential applied (V vs Li/Li<tspan font-size="5.5" dy="1.8">3</tspan><tspan dy="-1.8">Bi)</tspan></text>
<text x="0.0" y="0.0" font-size="8.6" font-weight="bold" fill="#222" text-anchor="middle" transform="translate(1061.0,559.5) rotate(-90)">Current density (A/cm<tspan font-size="5.5" dy="-3">2</tspan><tspan dy="3">)</tspan></text>
<text x="1161.9" y="512.5" font-size="15" font-weight="bold" fill="#111" text-anchor="middle" letter-spacing="-0.6">Ru</text>
<text x="1184.5" y="543.4" font-size="12.2" font-weight="bold" fill="#d8322a" text-anchor="start" >0.0018 A</text>
<line x1="1195.8" y1="546.6" x2="1180.9" y2="555.4" stroke="#333" stroke-width="0.8"/>
<path d="M1177.5,557.4 L1180.1,554.0 L1181.8,556.7 Z" fill="#333"/></svg></body></html>
